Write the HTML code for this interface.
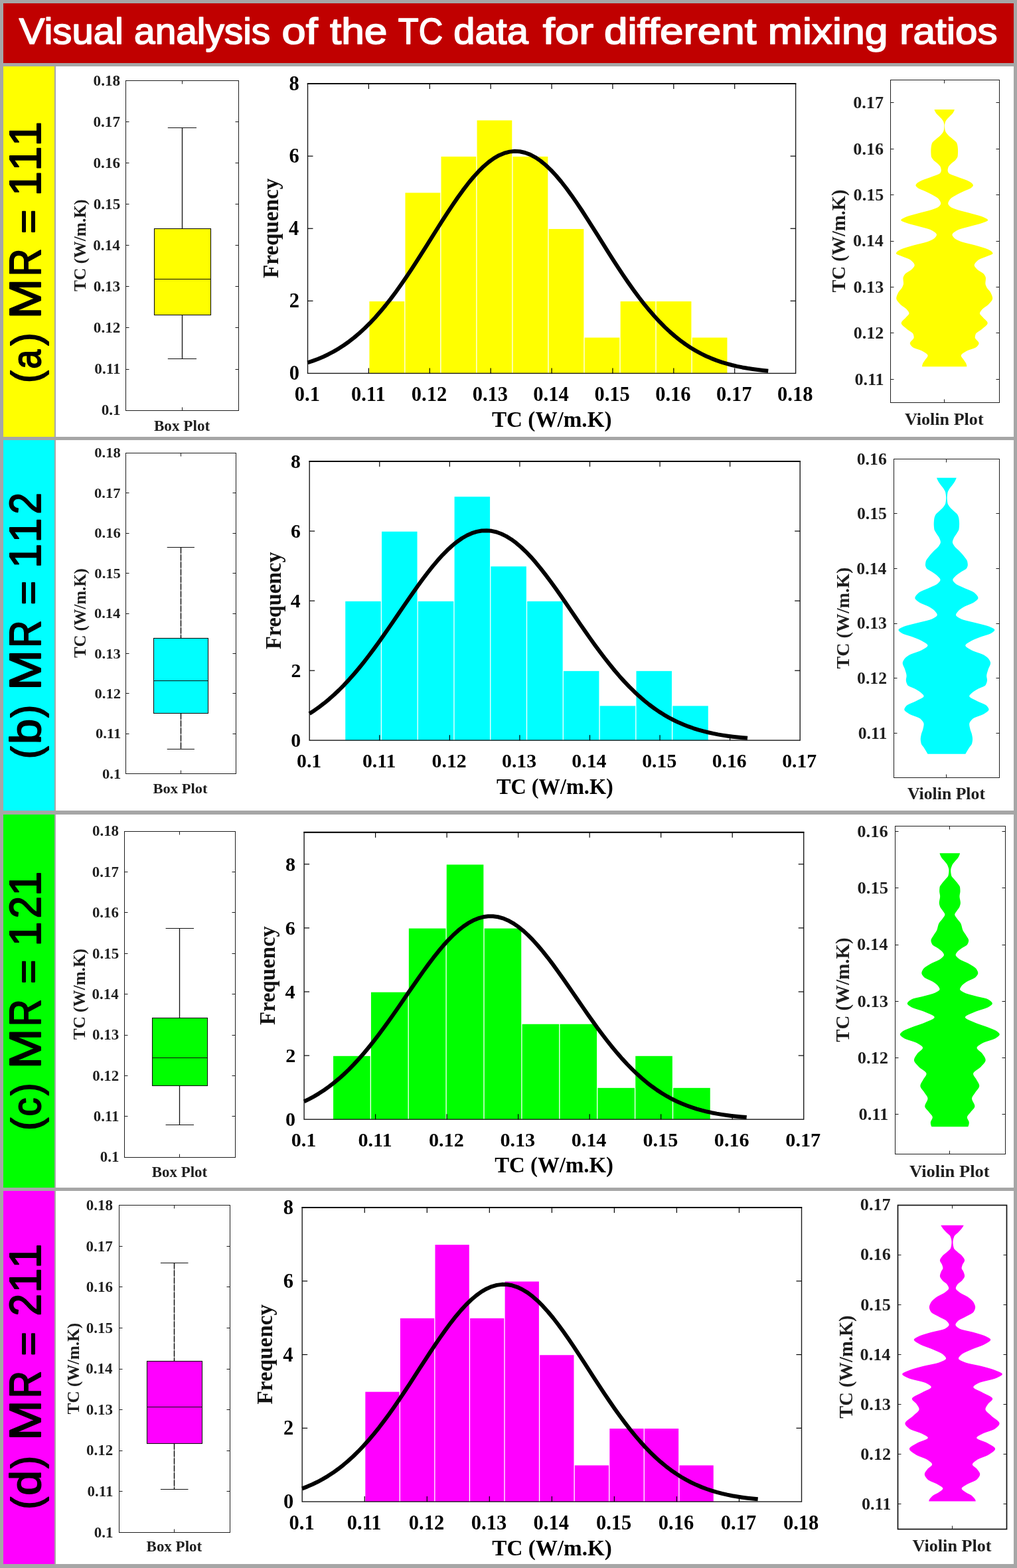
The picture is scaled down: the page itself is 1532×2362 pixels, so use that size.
<!DOCTYPE html>
<html lang="en">
<head>
<meta charset="utf-8">
<title>Visual analysis of the TC data for different mixing ratios</title>
<style>
html,body{margin:0;padding:0;background:#a6a6a6;}
body{width:1532px;height:2362px;overflow:hidden;}
svg{display:block;}
text{white-space:pre;}
</style>
</head>
<body>
<svg width="1532" height="2362" viewBox="0 0 1532 2362" role="img" aria-label="Visual analysis of the TC data for different mixing ratios">
<rect x="0" y="0" width="1532" height="2362" fill="#a6a6a6"/>
<rect x="5" y="5" width="1522" height="90" fill="#c00000"/>
<text y="65.95" font-family="'Liberation Sans','DejaVu Sans',sans-serif" font-size="56.3" fill="#fff" stroke="#fff" stroke-width="1.7" stroke-linejoin="round"><tspan x="28.76" textLength="157.15" lengthAdjust="spacingAndGlyphs">Visual</tspan> <tspan x="202.14" textLength="205.12" lengthAdjust="spacingAndGlyphs">analysis</tspan> <tspan x="424.59" textLength="54.2" lengthAdjust="spacingAndGlyphs">of</tspan> <tspan x="496.92" textLength="86.49" lengthAdjust="spacingAndGlyphs">the</tspan> <tspan x="599.81" textLength="67.28" lengthAdjust="spacingAndGlyphs">TC</tspan> <tspan x="683.39" textLength="112.43" lengthAdjust="spacingAndGlyphs">data</tspan> <tspan x="817.87" textLength="76.13" lengthAdjust="spacingAndGlyphs">for</tspan> <tspan x="910.14" textLength="229.42" lengthAdjust="spacingAndGlyphs">different</tspan> <tspan x="1156.83" textLength="180.67" lengthAdjust="spacingAndGlyphs">mixing</tspan> <tspan x="1355.38" textLength="147.3" lengthAdjust="spacingAndGlyphs">ratios</tspan></text>
<rect x="5" y="100" width="77" height="558" fill="#ffff00"/>
<rect x="84" y="100" width="1443" height="558" fill="#fff"/>
<text y="61.2" transform="rotate(-90)" font-family="'Liberation Sans','DejaVu Sans',sans-serif" font-size="66.6" fill="#000" stroke="#000" stroke-width="2" stroke-linejoin="round"><tspan x="-576.78" y="59.8" font-size="61.4" textLength="18.52" lengthAdjust="spacingAndGlyphs">(</tspan><tspan x="-555.4" y="61.2" font-size="61.5" textLength="28.76" lengthAdjust="spacingAndGlyphs">a</tspan><tspan x="-520.43" y="59.8" font-size="61.4" textLength="19.28" lengthAdjust="spacingAndGlyphs">)</tspan> <tspan x="-480.38" y="61.2" textLength="60.4" lengthAdjust="spacingAndGlyphs">M</tspan><tspan x="-416.42" y="61.2" textLength="42.17" lengthAdjust="spacingAndGlyphs">R</tspan> <tspan x="-351.67" y="61.4" font-size="54.8" textLength="35.88" lengthAdjust="spacingAndGlyphs">=</tspan> <tspan x="-295.36" y="61.2" textLength="37.04" lengthAdjust="spacingAndGlyphs">1</tspan><tspan x="-257.46" y="61.2" textLength="37.04" lengthAdjust="spacingAndGlyphs">1</tspan><tspan x="-220.16" y="61.2" textLength="37.04" lengthAdjust="spacingAndGlyphs">1</tspan></text>
<g>
<rect x="189.5" y="121.5" width="170" height="497" fill="#fff" stroke="#1e1e1e" stroke-width="1"/>
<text x="140.6" y="128.61" font-family="'Liberation Serif','DejaVu Serif',serif" font-size="22.5" font-weight="bold" fill="#1e1e1e" textLength="40.56" lengthAdjust="spacingAndGlyphs">0.18</text>
<line x1="189.5" y1="183.5" x2="194.5" y2="183.5" stroke="#1e1e1e" stroke-width="1"/>
<line x1="354.5" y1="183.5" x2="359.5" y2="183.5" stroke="#1e1e1e" stroke-width="1"/>
<text x="140.42" y="190.71" font-family="'Liberation Serif','DejaVu Serif',serif" font-size="22.5" font-weight="bold" fill="#1e1e1e" textLength="40.56" lengthAdjust="spacingAndGlyphs">0.17</text>
<line x1="189.5" y1="245.5" x2="194.5" y2="245.5" stroke="#1e1e1e" stroke-width="1"/>
<line x1="354.5" y1="245.5" x2="359.5" y2="245.5" stroke="#1e1e1e" stroke-width="1"/>
<text x="140.54" y="252.81" font-family="'Liberation Serif','DejaVu Serif',serif" font-size="22.5" font-weight="bold" fill="#1e1e1e" textLength="40.56" lengthAdjust="spacingAndGlyphs">0.16</text>
<line x1="189.5" y1="307.5" x2="194.5" y2="307.5" stroke="#1e1e1e" stroke-width="1"/>
<line x1="354.5" y1="307.5" x2="359.5" y2="307.5" stroke="#1e1e1e" stroke-width="1"/>
<text x="140.71" y="314.91" font-family="'Liberation Serif','DejaVu Serif',serif" font-size="22.5" font-weight="bold" fill="#1e1e1e" textLength="40.56" lengthAdjust="spacingAndGlyphs">0.15</text>
<line x1="189.5" y1="369.5" x2="194.5" y2="369.5" stroke="#1e1e1e" stroke-width="1"/>
<line x1="354.5" y1="369.5" x2="359.5" y2="369.5" stroke="#1e1e1e" stroke-width="1"/>
<text x="140.25" y="377.01" font-family="'Liberation Serif','DejaVu Serif',serif" font-size="22.5" font-weight="bold" fill="#1e1e1e" textLength="40.56" lengthAdjust="spacingAndGlyphs">0.14</text>
<line x1="189.5" y1="431.5" x2="194.5" y2="431.5" stroke="#1e1e1e" stroke-width="1"/>
<line x1="354.5" y1="431.5" x2="359.5" y2="431.5" stroke="#1e1e1e" stroke-width="1"/>
<text x="140.65" y="439.11" font-family="'Liberation Serif','DejaVu Serif',serif" font-size="22.5" font-weight="bold" fill="#1e1e1e" textLength="40.56" lengthAdjust="spacingAndGlyphs">0.13</text>
<line x1="189.5" y1="493.5" x2="194.5" y2="493.5" stroke="#1e1e1e" stroke-width="1"/>
<line x1="354.5" y1="493.5" x2="359.5" y2="493.5" stroke="#1e1e1e" stroke-width="1"/>
<text x="140.83" y="501.21" font-family="'Liberation Serif','DejaVu Serif',serif" font-size="22.5" font-weight="bold" fill="#1e1e1e" textLength="40.56" lengthAdjust="spacingAndGlyphs">0.12</text>
<line x1="189.5" y1="556.5" x2="194.5" y2="556.5" stroke="#1e1e1e" stroke-width="1"/>
<line x1="354.5" y1="556.5" x2="359.5" y2="556.5" stroke="#1e1e1e" stroke-width="1"/>
<text x="142.34" y="563.31" font-family="'Liberation Serif','DejaVu Serif',serif" font-size="22.5" font-weight="bold" fill="#1e1e1e" textLength="39.28" lengthAdjust="spacingAndGlyphs">0.11</text>
<text x="152.65" y="625.41" font-family="'Liberation Serif','DejaVu Serif',serif" font-size="22.5" font-weight="bold" fill="#1e1e1e" textLength="28.97" lengthAdjust="spacingAndGlyphs">0.1</text>
<line x1="274.5" y1="121.5" x2="274.5" y2="126.5" stroke="#1e1e1e" stroke-width="1"/>
<line x1="274.5" y1="613.5" x2="274.5" y2="618.5" stroke="#1e1e1e" stroke-width="1"/>
<line x1="274.5" y1="192.5" x2="274.5" y2="344.5" stroke="#111" stroke-width="1.3"/>
<line x1="274.5" y1="474.5" x2="274.5" y2="540.5" stroke="#111" stroke-width="1.3"/>
<line x1="252.8" y1="192.5" x2="296" y2="192.5" stroke="#111" stroke-width="1.2"/>
<line x1="252.8" y1="540.5" x2="296" y2="540.5" stroke="#111" stroke-width="1.2"/>
<rect x="232.5" y="344.5" width="85" height="130" fill="#ffff00" stroke="#111" stroke-width="1.1"/>
<line x1="232.5" y1="420.5" x2="317.5" y2="420.5" stroke="#111" stroke-width="1.2"/>
<text x="231.91" y="648.7" font-family="'Liberation Serif','DejaVu Serif',serif" font-size="22.5" font-weight="bold" fill="#1e1e1e" textLength="84.33" lengthAdjust="spacingAndGlyphs">Box Plot</text>
<text x="-438.97" y="129" font-family="'Liberation Serif','DejaVu Serif',serif" font-size="25.6" font-weight="bold" fill="#1e1e1e" textLength="138.67" lengthAdjust="spacingAndGlyphs" transform="rotate(-90)">TC (W/m.K)</text>
</g>
<g>
<rect x="463.5" y="126.1" width="735.1" height="436.3" fill="#fff"/>
<rect x="556.45" y="454.02" width="52.73" height="108.37" fill="#ffff00"/>
<rect x="610.48" y="290.41" width="52.73" height="271.99" fill="#ffff00"/>
<rect x="664.51" y="235.88" width="52.73" height="326.52" fill="#ffff00"/>
<rect x="718.54" y="181.34" width="52.73" height="381.06" fill="#ffff00"/>
<rect x="772.57" y="235.88" width="52.73" height="326.52" fill="#ffff00"/>
<rect x="826.6" y="344.95" width="52.73" height="217.45" fill="#ffff00"/>
<rect x="880.63" y="508.56" width="52.73" height="53.84" fill="#ffff00"/>
<rect x="934.66" y="454.02" width="52.73" height="108.37" fill="#ffff00"/>
<rect x="988.69" y="454.02" width="52.73" height="108.37" fill="#ffff00"/>
<rect x="1042.72" y="508.56" width="52.73" height="53.84" fill="#ffff00"/>
<rect x="463.5" y="126.1" width="735.1" height="436.3" fill="none" stroke="#1a1a1a" stroke-width="1.4"/>
<line x1="462.8" y1="126.1" x2="1199.3" y2="126.1" stroke="#000" stroke-width="1.9"/>
<text x="443.87" y="604.3" font-family="'Liberation Serif','DejaVu Serif',serif" font-size="30.5" font-weight="bold" fill="#000" textLength="38.12" lengthAdjust="spacingAndGlyphs">0.1</text>
<line x1="555.39" y1="562.4" x2="555.39" y2="554.4" stroke="#000" stroke-width="1.2"/>
<line x1="555.39" y1="126.1" x2="555.39" y2="134.1" stroke="#000" stroke-width="1.2"/>
<text x="528.97" y="604.3" font-family="'Liberation Serif','DejaVu Serif',serif" font-size="30.5" font-weight="bold" fill="#000" textLength="51.69" lengthAdjust="spacingAndGlyphs">0.11</text>
<line x1="647.28" y1="562.4" x2="647.28" y2="554.4" stroke="#000" stroke-width="1.2"/>
<line x1="647.28" y1="126.1" x2="647.28" y2="134.1" stroke="#000" stroke-width="1.2"/>
<text x="619.86" y="604.3" font-family="'Liberation Serif','DejaVu Serif',serif" font-size="30.5" font-weight="bold" fill="#000" textLength="53.38" lengthAdjust="spacingAndGlyphs">0.12</text>
<line x1="739.16" y1="562.4" x2="739.16" y2="554.4" stroke="#000" stroke-width="1.2"/>
<line x1="739.16" y1="126.1" x2="739.16" y2="134.1" stroke="#000" stroke-width="1.2"/>
<text x="711.64" y="604.3" font-family="'Liberation Serif','DejaVu Serif',serif" font-size="30.5" font-weight="bold" fill="#000" textLength="53.38" lengthAdjust="spacingAndGlyphs">0.13</text>
<line x1="831.05" y1="562.4" x2="831.05" y2="554.4" stroke="#000" stroke-width="1.2"/>
<line x1="831.05" y1="126.1" x2="831.05" y2="134.1" stroke="#000" stroke-width="1.2"/>
<text x="803.26" y="604.3" font-family="'Liberation Serif','DejaVu Serif',serif" font-size="30.5" font-weight="bold" fill="#000" textLength="53.38" lengthAdjust="spacingAndGlyphs">0.14</text>
<line x1="922.94" y1="562.4" x2="922.94" y2="554.4" stroke="#000" stroke-width="1.2"/>
<line x1="922.94" y1="126.1" x2="922.94" y2="134.1" stroke="#000" stroke-width="1.2"/>
<text x="895.45" y="604.3" font-family="'Liberation Serif','DejaVu Serif',serif" font-size="30.5" font-weight="bold" fill="#000" textLength="53.38" lengthAdjust="spacingAndGlyphs">0.15</text>
<line x1="1014.82" y1="562.4" x2="1014.82" y2="554.4" stroke="#000" stroke-width="1.2"/>
<line x1="1014.82" y1="126.1" x2="1014.82" y2="134.1" stroke="#000" stroke-width="1.2"/>
<text x="987.22" y="604.3" font-family="'Liberation Serif','DejaVu Serif',serif" font-size="30.5" font-weight="bold" fill="#000" textLength="53.38" lengthAdjust="spacingAndGlyphs">0.16</text>
<line x1="1106.71" y1="562.4" x2="1106.71" y2="554.4" stroke="#000" stroke-width="1.2"/>
<line x1="1106.71" y1="126.1" x2="1106.71" y2="134.1" stroke="#000" stroke-width="1.2"/>
<text x="1079.03" y="604.3" font-family="'Liberation Serif','DejaVu Serif',serif" font-size="30.5" font-weight="bold" fill="#000" textLength="53.38" lengthAdjust="spacingAndGlyphs">0.17</text>
<text x="1171.04" y="604.3" font-family="'Liberation Serif','DejaVu Serif',serif" font-size="30.5" font-weight="bold" fill="#000" textLength="53.38" lengthAdjust="spacingAndGlyphs">0.18</text>
<text x="435.69" y="572.39" font-family="'Liberation Serif','DejaVu Serif',serif" font-size="30.5" font-weight="bold" fill="#000" textLength="15.25" lengthAdjust="spacingAndGlyphs">0</text>
<line x1="463.5" y1="453.32" x2="471.5" y2="453.32" stroke="#000" stroke-width="1.2"/>
<line x1="1190.6" y1="453.32" x2="1198.6" y2="453.32" stroke="#000" stroke-width="1.2"/>
<text x="435.85" y="463.43" font-family="'Liberation Serif','DejaVu Serif',serif" font-size="30.5" font-weight="bold" fill="#000" textLength="15.25" lengthAdjust="spacingAndGlyphs">2</text>
<line x1="463.5" y1="344.25" x2="471.5" y2="344.25" stroke="#000" stroke-width="1.2"/>
<line x1="1190.6" y1="344.25" x2="1198.6" y2="344.25" stroke="#000" stroke-width="1.2"/>
<text x="435.08" y="354.28" font-family="'Liberation Serif','DejaVu Serif',serif" font-size="30.5" font-weight="bold" fill="#000" textLength="15.25" lengthAdjust="spacingAndGlyphs">4</text>
<line x1="463.5" y1="235.18" x2="471.5" y2="235.18" stroke="#000" stroke-width="1.2"/>
<line x1="1190.6" y1="235.18" x2="1198.6" y2="235.18" stroke="#000" stroke-width="1.2"/>
<text x="435.47" y="245.13" font-family="'Liberation Serif','DejaVu Serif',serif" font-size="30.5" font-weight="bold" fill="#000" textLength="15.25" lengthAdjust="spacingAndGlyphs">6</text>
<text x="435.54" y="136.09" font-family="'Liberation Serif','DejaVu Serif',serif" font-size="30.5" font-weight="bold" fill="#000" textLength="15.25" lengthAdjust="spacingAndGlyphs">8</text>
<path d="M463.5 546.25 L471.29 543.65 L479.09 540.72 L486.88 537.42 L494.68 533.72 L502.47 529.61 L510.27 525.05 L518.06 520.01 L525.86 514.47 L533.65 508.41 L541.45 501.81 L549.24 494.66 L557.04 486.95 L564.83 478.69 L572.63 469.86 L580.42 460.49 L588.22 450.59 L596.01 440.19 L603.81 429.33 L611.6 418.04 L619.4 406.38 L627.19 394.42 L634.99 382.22 L642.78 369.85 L650.58 357.41 L658.37 344.99 L666.17 332.68 L673.96 320.59 L681.76 308.81 L689.55 297.46 L697.35 286.64 L705.14 276.46 L712.94 267.01 L720.73 258.4 L728.53 250.71 L736.32 244.03 L744.12 238.42 L751.91 233.96 L759.71 230.68 L767.5 228.63 L775.3 227.82 L783.09 228.28 L790.89 229.99 L798.68 232.93 L806.48 237.07 L814.27 242.36 L822.07 248.75 L829.86 256.17 L837.66 264.54 L845.45 273.76 L853.25 283.75 L861.04 294.41 L868.84 305.62 L876.63 317.29 L884.43 329.31 L892.22 341.57 L900.02 353.97 L907.81 366.41 L915.61 378.81 L923.4 391.06 L931.2 403.1 L938.99 414.85 L946.79 426.24 L954.58 437.23 L962.38 447.76 L970.17 457.8 L977.97 467.32 L985.76 476.3 L993.56 484.72 L1001.35 492.58 L1009.15 499.89 L1016.94 506.63 L1024.74 512.84 L1032.53 518.52 L1040.33 523.7 L1048.12 528.39 L1055.92 532.63 L1063.71 536.44 L1071.51 539.84 L1079.3 542.87 L1087.1 545.56 L1094.89 547.93 L1102.69 550.02 L1110.48 551.84 L1118.28 553.43 L1126.07 554.81 L1133.87 556 L1141.66 557.03 L1149.46 557.9 L1157.25 558.65" fill="none" stroke="#000" stroke-width="6" stroke-linejoin="round"/>
<text x="741" y="643.2" font-family="'Liberation Serif','DejaVu Serif',serif" font-size="34" font-weight="bold" fill="#000" textLength="180.47" lengthAdjust="spacingAndGlyphs">TC (W/m.K)</text>
<text x="-419.08" y="419" font-family="'Liberation Serif','DejaVu Serif',serif" font-size="34" font-weight="bold" fill="#111" textLength="150.39" lengthAdjust="spacingAndGlyphs" transform="rotate(-90)">Frequency</text>
</g>
<g>
<rect x="1341.5" y="120.5" width="164" height="486" fill="#fff" stroke="#1e1e1e" stroke-width="1"/>
<path d="M1407.52 165.01 L1407.81 166.01 L1408.21 167.01 L1408.69 168.01 L1409.25 169.01 L1409.86 170.01 L1410.53 171.01 L1411.4 172.01 L1412.41 173.01 L1413.47 174.01 L1414.5 175.01 L1415.46 176.01 L1416.46 177.01 L1417.45 178.01 L1418.37 179.01 L1419.18 180.01 L1419.86 181.01 L1420.51 182.01 L1421.06 183.01 L1421.47 184.01 L1421.75 185.01 L1422 186.01 L1422.2 187.01 L1422.35 188.01 L1422.4 189.01 L1422.39 190.01 L1422.35 191.01 L1422.29 192.01 L1422.21 193.01 L1422.11 194.01 L1421.96 195.01 L1421.74 196.01 L1421.44 197.01 L1421.1 198.01 L1420.62 199.01 L1420 200.01 L1419.25 201.01 L1418.41 202.01 L1417.52 203.01 L1416.62 204.01 L1415.58 205.01 L1414.41 206.01 L1413.16 207.01 L1411.91 208.01 L1410.7 209.01 L1409.58 210.01 L1408.41 211.01 L1407.2 212.01 L1406.06 213.01 L1405.08 214.01 L1404.35 215.01 L1403.92 216.01 L1403.6 217.01 L1403.32 218.01 L1403.09 219.01 L1402.91 220.01 L1402.77 221.01 L1402.66 222.01 L1402.57 223.01 L1402.48 224.01 L1402.41 225.01 L1402.36 226.01 L1402.34 227.01 L1402.34 228.01 L1402.35 229.01 L1402.38 230.01 L1402.43 231.01 L1402.48 232.01 L1402.55 233.01 L1402.63 234.01 L1402.72 235.01 L1402.91 236.01 L1403.31 237.01 L1403.87 238.01 L1404.55 239.01 L1405.3 240.01 L1406.07 241.01 L1407 242.01 L1408.16 243.01 L1409.46 244.01 L1410.78 245.01 L1412.01 246.01 L1413.05 247.01 L1414.02 248.01 L1414.98 249.01 L1415.83 250.01 L1416.5 251.01 L1416.9 252.01 L1417.21 253.01 L1417.47 254.01 L1417.66 255.01 L1417.78 256.01 L1417.79 257.01 L1417.6 258.01 L1417.24 259.01 L1416.75 260.01 L1416.08 261.01 L1414.61 262.01 L1412.42 263.01 L1409.79 264.01 L1406.97 265.01 L1404.23 266.01 L1401.68 267.01 L1398.92 268.01 L1396.02 269.01 L1393.14 270.01 L1390.44 271.01 L1388.09 272.01 L1386.1 273.01 L1384.24 274.01 L1382.62 275.01 L1381.39 276.01 L1380.53 277.01 L1379.8 278.01 L1379.43 279.01 L1379.63 280.01 L1380.32 281.01 L1381.32 282.01 L1382.46 283.01 L1383.96 284.01 L1386.08 285.01 L1388.55 286.01 L1391.08 287.01 L1393.38 288.01 L1395.48 289.01 L1397.59 290.01 L1399.66 291.01 L1401.66 292.01 L1403.56 293.01 L1405.33 294.01 L1407.1 295.01 L1408.86 296.01 L1410.54 297.01 L1412.03 298.01 L1413.24 299.01 L1414.09 300.01 L1414.82 301.01 L1415.5 302.01 L1416.11 303.01 L1416.61 304.01 L1416.98 305.01 L1417.18 306.01 L1417.18 307.01 L1416.85 308.01 L1416.23 309.01 L1415.38 310.01 L1414.39 311.01 L1413.2 312.01 L1411.31 313.01 L1408.87 314.01 L1406.16 315.01 L1403.29 316.01 L1399.9 317.01 L1396.14 318.01 L1392.19 319.01 L1388.24 320.01 L1384.48 321.01 L1380.9 322.01 L1377.16 323.01 L1373.43 324.01 L1369.91 325.01 L1366.78 326.01 L1364.25 327.01 L1362.14 328.01 L1360.1 329.01 L1358.39 330.01 L1357.32 331.01 L1357.2 332.01 L1358.41 333.01 L1360.61 334.01 L1363.31 335.01 L1366.03 336.01 L1369.05 337.01 L1372.65 338.01 L1376.54 339.01 L1380.44 340.01 L1384.07 341.01 L1387.76 342.01 L1391.62 343.01 L1395.39 344.01 L1398.81 345.01 L1401.61 346.01 L1403.59 347.01 L1405.29 348.01 L1406.89 349.01 L1408.32 350.01 L1409.5 351.01 L1410.38 352.01 L1410.87 353.01 L1410.92 354.01 L1410.61 355.01 L1410.05 356.01 L1409.3 357.01 L1408.44 358.01 L1407.47 359.01 L1406.1 360.01 L1404.36 361.01 L1402.32 362.01 L1400.07 363.01 L1397.53 364.01 L1394.29 365.01 L1390.51 366.01 L1386.42 367.01 L1382.24 368.01 L1378.19 369.01 L1374.49 370.01 L1371.13 371.01 L1367.72 372.01 L1364.39 373.01 L1361.28 374.01 L1358.54 375.01 L1356.3 376.01 L1354.47 377.01 L1352.82 378.01 L1351.49 379.01 L1350.63 380.01 L1350.09 381.01 L1349.86 382.01 L1350.87 383.01 L1353.14 384.01 L1355.9 385.01 L1358.39 386.01 L1360.85 387.01 L1363.53 388.01 L1366.23 389.01 L1368.7 390.01 L1370.72 391.01 L1372.09 392.01 L1373.23 393.01 L1374.31 394.01 L1375.29 395.01 L1376.14 396.01 L1376.84 397.01 L1377.34 398.01 L1377.62 399.01 L1377.63 400.01 L1377.31 401.01 L1376.72 402.01 L1375.95 403.01 L1375.06 404.01 L1374.14 405.01 L1373.19 406.01 L1371.91 407.01 L1370.39 408.01 L1368.73 409.01 L1367.06 410.01 L1365.5 411.01 L1364.16 412.01 L1363.17 413.01 L1362.51 414.01 L1361.89 415.01 L1361.34 416.01 L1360.88 417.01 L1360.57 418.01 L1360.43 419.01 L1360.45 420.01 L1360.51 421.01 L1360.61 422.01 L1360.71 423.01 L1360.83 424.01 L1360.92 425.01 L1360.99 426.01 L1361.02 427.01 L1360.93 428.01 L1360.69 429.01 L1360.34 430.01 L1359.92 431.01 L1359.45 432.01 L1358.99 433.01 L1358.41 434.01 L1357.67 435.01 L1356.82 436.01 L1355.93 437.01 L1355.05 438.01 L1354.24 439.01 L1353.55 440.01 L1353.04 441.01 L1352.57 442.01 L1352.1 443.01 L1351.65 444.01 L1351.24 445.01 L1350.88 446.01 L1350.59 447.01 L1350.37 448.01 L1350.26 449.01 L1350.28 450.01 L1350.51 451.01 L1350.95 452.01 L1351.55 453.01 L1352.29 454.01 L1353.12 455.01 L1354.02 456.01 L1354.93 457.01 L1355.84 458.01 L1356.79 459.01 L1357.96 460.01 L1359.31 461.01 L1360.75 462.01 L1362.2 463.01 L1363.58 464.01 L1364.8 465.01 L1365.79 466.01 L1366.61 467.01 L1367.43 468.01 L1368.2 469.01 L1368.83 470.01 L1369.27 471.01 L1369.44 472.01 L1369.21 473.01 L1368.6 474.01 L1367.73 475.01 L1366.73 476.01 L1365.73 477.01 L1364.85 478.01 L1363.95 479.01 L1362.93 480.01 L1361.84 481.01 L1360.76 482.01 L1359.74 483.01 L1358.86 484.01 L1358.19 485.01 L1357.78 486.01 L1357.7 487.01 L1357.99 488.01 L1358.59 489.01 L1359.45 490.01 L1360.49 491.01 L1361.66 492.01 L1362.9 493.01 L1364.14 494.01 L1365.33 495.01 L1366.46 496.01 L1367.79 497.01 L1369.3 498.01 L1370.86 499.01 L1372.37 500.01 L1373.73 501.01 L1374.83 502.01 L1375.55 503.01 L1375.91 504.01 L1376.2 505.01 L1376.43 506.01 L1376.6 507.01 L1376.68 508.01 L1376.56 509.01 L1376.08 510.01 L1375.32 511.01 L1374.4 512.01 L1373.4 513.01 L1372.44 514.01 L1371.62 515.01 L1371.04 516.01 L1370.81 517.01 L1370.94 518.01 L1371.35 519.01 L1371.99 520.01 L1372.81 521.01 L1373.76 522.01 L1374.79 523.01 L1376.48 524.01 L1379.03 525.01 L1382.02 526.01 L1385.07 527.01 L1387.76 528.01 L1389.72 529.01 L1391.39 530.01 L1393.05 531.01 L1394.59 532.01 L1395.91 533.01 L1396.91 534.01 L1397.51 535.01 L1397.61 536.01 L1397.34 537.01 L1396.8 538.01 L1396.08 539.01 L1395.26 540.01 L1394.43 541.01 L1393.67 542.01 L1393.02 543.01 L1392.34 544.01 L1391.64 545.01 L1390.97 546.01 L1390.38 547.01 L1389.93 548.01 L1389.63 549.01 L1389.37 550.01 L1389.16 551.01 L1389.04 552.01 L1389.02 552.32 L1456.38 552.32 L1456.36 552.01 L1456.24 551.01 L1456.03 550.01 L1455.77 549.01 L1455.47 548.01 L1455.02 547.01 L1454.43 546.01 L1453.76 545.01 L1453.06 544.01 L1452.38 543.01 L1451.73 542.01 L1450.97 541.01 L1450.14 540.01 L1449.32 539.01 L1448.6 538.01 L1448.06 537.01 L1447.79 536.01 L1447.89 535.01 L1448.49 534.01 L1449.49 533.01 L1450.81 532.01 L1452.35 531.01 L1454.01 530.01 L1455.68 529.01 L1457.64 528.01 L1460.33 527.01 L1463.38 526.01 L1466.37 525.01 L1468.92 524.01 L1470.61 523.01 L1471.64 522.01 L1472.59 521.01 L1473.41 520.01 L1474.05 519.01 L1474.46 518.01 L1474.59 517.01 L1474.36 516.01 L1473.78 515.01 L1472.96 514.01 L1472 513.01 L1471 512.01 L1470.08 511.01 L1469.32 510.01 L1468.84 509.01 L1468.72 508.01 L1468.8 507.01 L1468.97 506.01 L1469.2 505.01 L1469.49 504.01 L1469.85 503.01 L1470.57 502.01 L1471.67 501.01 L1473.03 500.01 L1474.54 499.01 L1476.1 498.01 L1477.61 497.01 L1478.94 496.01 L1480.07 495.01 L1481.26 494.01 L1482.5 493.01 L1483.74 492.01 L1484.91 491.01 L1485.95 490.01 L1486.81 489.01 L1487.41 488.01 L1487.7 487.01 L1487.62 486.01 L1487.21 485.01 L1486.54 484.01 L1485.66 483.01 L1484.64 482.01 L1483.56 481.01 L1482.47 480.01 L1481.45 479.01 L1480.55 478.01 L1479.67 477.01 L1478.67 476.01 L1477.67 475.01 L1476.8 474.01 L1476.19 473.01 L1475.96 472.01 L1476.13 471.01 L1476.57 470.01 L1477.2 469.01 L1477.97 468.01 L1478.79 467.01 L1479.61 466.01 L1480.6 465.01 L1481.82 464.01 L1483.2 463.01 L1484.65 462.01 L1486.09 461.01 L1487.44 460.01 L1488.61 459.01 L1489.56 458.01 L1490.47 457.01 L1491.38 456.01 L1492.28 455.01 L1493.11 454.01 L1493.85 453.01 L1494.45 452.01 L1494.89 451.01 L1495.12 450.01 L1495.14 449.01 L1495.03 448.01 L1494.81 447.01 L1494.52 446.01 L1494.16 445.01 L1493.75 444.01 L1493.3 443.01 L1492.83 442.01 L1492.36 441.01 L1491.85 440.01 L1491.16 439.01 L1490.35 438.01 L1489.47 437.01 L1488.58 436.01 L1487.73 435.01 L1486.99 434.01 L1486.41 433.01 L1485.95 432.01 L1485.48 431.01 L1485.06 430.01 L1484.71 429.01 L1484.47 428.01 L1484.38 427.01 L1484.41 426.01 L1484.48 425.01 L1484.57 424.01 L1484.69 423.01 L1484.79 422.01 L1484.89 421.01 L1484.95 420.01 L1484.97 419.01 L1484.83 418.01 L1484.52 417.01 L1484.06 416.01 L1483.51 415.01 L1482.89 414.01 L1482.23 413.01 L1481.24 412.01 L1479.9 411.01 L1478.34 410.01 L1476.67 409.01 L1475.01 408.01 L1473.49 407.01 L1472.21 406.01 L1471.26 405.01 L1470.34 404.01 L1469.45 403.01 L1468.68 402.01 L1468.09 401.01 L1467.77 400.01 L1467.78 399.01 L1468.06 398.01 L1468.56 397.01 L1469.26 396.01 L1470.11 395.01 L1471.09 394.01 L1472.17 393.01 L1473.31 392.01 L1474.68 391.01 L1476.7 390.01 L1479.17 389.01 L1481.87 388.01 L1484.55 387.01 L1487.01 386.01 L1489.5 385.01 L1492.26 384.01 L1494.53 383.01 L1495.54 382.01 L1495.31 381.01 L1494.77 380.01 L1493.91 379.01 L1492.58 378.01 L1490.93 377.01 L1489.1 376.01 L1486.86 375.01 L1484.12 374.01 L1481.01 373.01 L1477.68 372.01 L1474.27 371.01 L1470.91 370.01 L1467.21 369.01 L1463.16 368.01 L1458.98 367.01 L1454.89 366.01 L1451.11 365.01 L1447.87 364.01 L1445.33 363.01 L1443.08 362.01 L1441.04 361.01 L1439.3 360.01 L1437.93 359.01 L1436.96 358.01 L1436.1 357.01 L1435.35 356.01 L1434.79 355.01 L1434.48 354.01 L1434.53 353.01 L1435.02 352.01 L1435.9 351.01 L1437.08 350.01 L1438.51 349.01 L1440.11 348.01 L1441.81 347.01 L1443.79 346.01 L1446.59 345.01 L1450.01 344.01 L1453.78 343.01 L1457.64 342.01 L1461.33 341.01 L1464.96 340.01 L1468.86 339.01 L1472.75 338.01 L1476.35 337.01 L1479.37 336.01 L1482.09 335.01 L1484.79 334.01 L1486.99 333.01 L1488.2 332.01 L1488.08 331.01 L1487.01 330.01 L1485.3 329.01 L1483.26 328.01 L1481.15 327.01 L1478.62 326.01 L1475.49 325.01 L1471.97 324.01 L1468.24 323.01 L1464.5 322.01 L1460.92 321.01 L1457.16 320.01 L1453.21 319.01 L1449.26 318.01 L1445.5 317.01 L1442.11 316.01 L1439.24 315.01 L1436.53 314.01 L1434.09 313.01 L1432.2 312.01 L1431.01 311.01 L1430.02 310.01 L1429.17 309.01 L1428.55 308.01 L1428.22 307.01 L1428.22 306.01 L1428.42 305.01 L1428.79 304.01 L1429.29 303.01 L1429.9 302.01 L1430.58 301.01 L1431.31 300.01 L1432.16 299.01 L1433.37 298.01 L1434.86 297.01 L1436.54 296.01 L1438.3 295.01 L1440.07 294.01 L1441.84 293.01 L1443.74 292.01 L1445.74 291.01 L1447.81 290.01 L1449.92 289.01 L1452.02 288.01 L1454.32 287.01 L1456.85 286.01 L1459.32 285.01 L1461.44 284.01 L1462.94 283.01 L1464.08 282.01 L1465.08 281.01 L1465.77 280.01 L1465.97 279.01 L1465.6 278.01 L1464.87 277.01 L1464.01 276.01 L1462.78 275.01 L1461.16 274.01 L1459.3 273.01 L1457.31 272.01 L1454.96 271.01 L1452.26 270.01 L1449.38 269.01 L1446.48 268.01 L1443.72 267.01 L1441.17 266.01 L1438.43 265.01 L1435.61 264.01 L1432.98 263.01 L1430.79 262.01 L1429.32 261.01 L1428.65 260.01 L1428.16 259.01 L1427.8 258.01 L1427.61 257.01 L1427.62 256.01 L1427.74 255.01 L1427.93 254.01 L1428.19 253.01 L1428.5 252.01 L1428.9 251.01 L1429.57 250.01 L1430.42 249.01 L1431.38 248.01 L1432.35 247.01 L1433.39 246.01 L1434.62 245.01 L1435.94 244.01 L1437.24 243.01 L1438.4 242.01 L1439.33 241.01 L1440.1 240.01 L1440.85 239.01 L1441.53 238.01 L1442.09 237.01 L1442.49 236.01 L1442.68 235.01 L1442.77 234.01 L1442.85 233.01 L1442.92 232.01 L1442.97 231.01 L1443.02 230.01 L1443.05 229.01 L1443.06 228.01 L1443.06 227.01 L1443.04 226.01 L1442.99 225.01 L1442.92 224.01 L1442.83 223.01 L1442.74 222.01 L1442.63 221.01 L1442.49 220.01 L1442.31 219.01 L1442.08 218.01 L1441.8 217.01 L1441.48 216.01 L1441.05 215.01 L1440.32 214.01 L1439.34 213.01 L1438.2 212.01 L1436.99 211.01 L1435.82 210.01 L1434.7 209.01 L1433.49 208.01 L1432.24 207.01 L1430.99 206.01 L1429.82 205.01 L1428.78 204.01 L1427.88 203.01 L1426.99 202.01 L1426.15 201.01 L1425.4 200.01 L1424.78 199.01 L1424.3 198.01 L1423.96 197.01 L1423.66 196.01 L1423.44 195.01 L1423.29 194.01 L1423.19 193.01 L1423.11 192.01 L1423.05 191.01 L1423.01 190.01 L1423 189.01 L1423.05 188.01 L1423.2 187.01 L1423.4 186.01 L1423.65 185.01 L1423.93 184.01 L1424.34 183.01 L1424.89 182.01 L1425.54 181.01 L1426.22 180.01 L1427.03 179.01 L1427.95 178.01 L1428.94 177.01 L1429.94 176.01 L1430.9 175.01 L1431.93 174.01 L1432.99 173.01 L1434 172.01 L1434.87 171.01 L1435.54 170.01 L1436.15 169.01 L1436.71 168.01 L1437.19 167.01 L1437.59 166.01 L1437.88 165.01 Z" fill="#ffff00"/>
<line x1="1341.5" y1="154.5" x2="1346.5" y2="154.5" stroke="#1e1e1e" stroke-width="1"/>
<line x1="1500.5" y1="154.5" x2="1505.5" y2="154.5" stroke="#1e1e1e" stroke-width="1"/>
<text x="1285.26" y="163.12" font-family="'Liberation Serif','DejaVu Serif',serif" font-size="25.6" font-weight="bold" fill="#1e1e1e" textLength="45.7" lengthAdjust="spacingAndGlyphs">0.17</text>
<line x1="1341.5" y1="224.5" x2="1346.5" y2="224.5" stroke="#1e1e1e" stroke-width="1"/>
<line x1="1500.5" y1="224.5" x2="1505.5" y2="224.5" stroke="#1e1e1e" stroke-width="1"/>
<text x="1285.39" y="232.52" font-family="'Liberation Serif','DejaVu Serif',serif" font-size="25.6" font-weight="bold" fill="#1e1e1e" textLength="45.7" lengthAdjust="spacingAndGlyphs">0.16</text>
<line x1="1341.5" y1="293.5" x2="1346.5" y2="293.5" stroke="#1e1e1e" stroke-width="1"/>
<line x1="1500.5" y1="293.5" x2="1505.5" y2="293.5" stroke="#1e1e1e" stroke-width="1"/>
<text x="1285.58" y="301.92" font-family="'Liberation Serif','DejaVu Serif',serif" font-size="25.6" font-weight="bold" fill="#1e1e1e" textLength="45.7" lengthAdjust="spacingAndGlyphs">0.15</text>
<line x1="1341.5" y1="363.5" x2="1346.5" y2="363.5" stroke="#1e1e1e" stroke-width="1"/>
<line x1="1500.5" y1="363.5" x2="1505.5" y2="363.5" stroke="#1e1e1e" stroke-width="1"/>
<text x="1285.06" y="371.32" font-family="'Liberation Serif','DejaVu Serif',serif" font-size="25.6" font-weight="bold" fill="#1e1e1e" textLength="45.7" lengthAdjust="spacingAndGlyphs">0.14</text>
<line x1="1341.5" y1="432.5" x2="1346.5" y2="432.5" stroke="#1e1e1e" stroke-width="1"/>
<line x1="1500.5" y1="432.5" x2="1505.5" y2="432.5" stroke="#1e1e1e" stroke-width="1"/>
<text x="1285.52" y="440.72" font-family="'Liberation Serif','DejaVu Serif',serif" font-size="25.6" font-weight="bold" fill="#1e1e1e" textLength="45.7" lengthAdjust="spacingAndGlyphs">0.13</text>
<line x1="1341.5" y1="501.5" x2="1346.5" y2="501.5" stroke="#1e1e1e" stroke-width="1"/>
<line x1="1500.5" y1="501.5" x2="1505.5" y2="501.5" stroke="#1e1e1e" stroke-width="1"/>
<text x="1285.71" y="510.12" font-family="'Liberation Serif','DejaVu Serif',serif" font-size="25.6" font-weight="bold" fill="#1e1e1e" textLength="45.7" lengthAdjust="spacingAndGlyphs">0.12</text>
<line x1="1341.5" y1="571.5" x2="1346.5" y2="571.5" stroke="#1e1e1e" stroke-width="1"/>
<line x1="1500.5" y1="571.5" x2="1505.5" y2="571.5" stroke="#1e1e1e" stroke-width="1"/>
<text x="1287.41" y="579.52" font-family="'Liberation Serif','DejaVu Serif',serif" font-size="25.6" font-weight="bold" fill="#1e1e1e" textLength="44.26" lengthAdjust="spacingAndGlyphs">0.11</text>
<line x1="1422.5" y1="120.5" x2="1422.5" y2="125.5" stroke="#1e1e1e" stroke-width="1"/>
<line x1="1422.5" y1="601.5" x2="1422.5" y2="606.5" stroke="#1e1e1e" stroke-width="1"/>
<text x="1362.9" y="640" font-family="'Liberation Serif','DejaVu Serif',serif" font-size="25.6" font-weight="bold" fill="#1e1e1e" textLength="118.72" lengthAdjust="spacingAndGlyphs">Violin Plot</text>
<text x="-440.55" y="1272.9" font-family="'Liberation Serif','DejaVu Serif',serif" font-size="28.6" font-weight="bold" fill="#1e1e1e" textLength="154.92" lengthAdjust="spacingAndGlyphs" transform="rotate(-90)">TC (W/m.K)</text>
</g>
<rect x="5" y="663" width="77" height="558" fill="#00ffff"/>
<rect x="84" y="663" width="1443" height="558" fill="#fff"/>
<text y="61.2" transform="rotate(-90)" font-family="'Liberation Sans','DejaVu Sans',sans-serif" font-size="66.6" fill="#000" stroke="#000" stroke-width="2" stroke-linejoin="round"><tspan x="-1143.12" y="59.8" font-size="61.4" textLength="18.78" lengthAdjust="spacingAndGlyphs">(</tspan><tspan x="-1121.06" y="61.2" font-size="64.6" textLength="38.19" lengthAdjust="spacingAndGlyphs">b</tspan><tspan x="-1080.83" y="59.8" font-size="61.4" textLength="18.9" lengthAdjust="spacingAndGlyphs">)</tspan> <tspan x="-1039.69" y="61.2" textLength="60.53" lengthAdjust="spacingAndGlyphs">M</tspan><tspan x="-975.73" y="61.2" textLength="41.44" lengthAdjust="spacingAndGlyphs">R</tspan> <tspan x="-911.07" y="61.4" font-size="54.8" textLength="35.88" lengthAdjust="spacingAndGlyphs">=</tspan> <tspan x="-855.96" y="61.2" textLength="37.04" lengthAdjust="spacingAndGlyphs">1</tspan><tspan x="-817.46" y="61.2" textLength="37.04" lengthAdjust="spacingAndGlyphs">1</tspan><tspan x="-774.51" y="61.2" textLength="32.39" lengthAdjust="spacingAndGlyphs">2</tspan></text>
<g>
<rect x="189.5" y="682.5" width="166" height="483" fill="#fff" stroke="#1e1e1e" stroke-width="1"/>
<text x="142.27" y="689.42" font-family="'Liberation Serif','DejaVu Serif',serif" font-size="21.89" font-weight="bold" fill="#1e1e1e" textLength="39.46" lengthAdjust="spacingAndGlyphs">0.18</text>
<line x1="189.5" y1="742.5" x2="194.5" y2="742.5" stroke="#1e1e1e" stroke-width="1"/>
<line x1="350.5" y1="742.5" x2="355.5" y2="742.5" stroke="#1e1e1e" stroke-width="1"/>
<text x="142.1" y="749.85" font-family="'Liberation Serif','DejaVu Serif',serif" font-size="21.89" font-weight="bold" fill="#1e1e1e" textLength="39.46" lengthAdjust="spacingAndGlyphs">0.17</text>
<line x1="189.5" y1="803.5" x2="194.5" y2="803.5" stroke="#1e1e1e" stroke-width="1"/>
<line x1="350.5" y1="803.5" x2="355.5" y2="803.5" stroke="#1e1e1e" stroke-width="1"/>
<text x="142.22" y="810.29" font-family="'Liberation Serif','DejaVu Serif',serif" font-size="21.89" font-weight="bold" fill="#1e1e1e" textLength="39.46" lengthAdjust="spacingAndGlyphs">0.16</text>
<line x1="189.5" y1="863.5" x2="194.5" y2="863.5" stroke="#1e1e1e" stroke-width="1"/>
<line x1="350.5" y1="863.5" x2="355.5" y2="863.5" stroke="#1e1e1e" stroke-width="1"/>
<text x="142.38" y="870.73" font-family="'Liberation Serif','DejaVu Serif',serif" font-size="21.89" font-weight="bold" fill="#1e1e1e" textLength="39.46" lengthAdjust="spacingAndGlyphs">0.15</text>
<line x1="189.5" y1="924.5" x2="194.5" y2="924.5" stroke="#1e1e1e" stroke-width="1"/>
<line x1="350.5" y1="924.5" x2="355.5" y2="924.5" stroke="#1e1e1e" stroke-width="1"/>
<text x="141.93" y="931.17" font-family="'Liberation Serif','DejaVu Serif',serif" font-size="21.89" font-weight="bold" fill="#1e1e1e" textLength="39.46" lengthAdjust="spacingAndGlyphs">0.14</text>
<line x1="189.5" y1="984.5" x2="194.5" y2="984.5" stroke="#1e1e1e" stroke-width="1"/>
<line x1="350.5" y1="984.5" x2="355.5" y2="984.5" stroke="#1e1e1e" stroke-width="1"/>
<text x="142.33" y="991.6" font-family="'Liberation Serif','DejaVu Serif',serif" font-size="21.89" font-weight="bold" fill="#1e1e1e" textLength="39.46" lengthAdjust="spacingAndGlyphs">0.13</text>
<line x1="189.5" y1="1044.5" x2="194.5" y2="1044.5" stroke="#1e1e1e" stroke-width="1"/>
<line x1="350.5" y1="1044.5" x2="355.5" y2="1044.5" stroke="#1e1e1e" stroke-width="1"/>
<text x="142.5" y="1052.04" font-family="'Liberation Serif','DejaVu Serif',serif" font-size="21.89" font-weight="bold" fill="#1e1e1e" textLength="39.46" lengthAdjust="spacingAndGlyphs">0.12</text>
<line x1="189.5" y1="1105.5" x2="194.5" y2="1105.5" stroke="#1e1e1e" stroke-width="1"/>
<line x1="350.5" y1="1105.5" x2="355.5" y2="1105.5" stroke="#1e1e1e" stroke-width="1"/>
<text x="143.96" y="1112.48" font-family="'Liberation Serif','DejaVu Serif',serif" font-size="21.89" font-weight="bold" fill="#1e1e1e" textLength="38.22" lengthAdjust="spacingAndGlyphs">0.11</text>
<text x="154" y="1172.92" font-family="'Liberation Serif','DejaVu Serif',serif" font-size="21.89" font-weight="bold" fill="#1e1e1e" textLength="28.19" lengthAdjust="spacingAndGlyphs">0.1</text>
<line x1="272.5" y1="682.5" x2="272.5" y2="687.5" stroke="#1e1e1e" stroke-width="1"/>
<line x1="272.5" y1="1160.5" x2="272.5" y2="1165.5" stroke="#1e1e1e" stroke-width="1"/>
<line x1="272.5" y1="824.5" x2="272.5" y2="961.5" stroke="#777" stroke-width="1"/>
<line x1="272.5" y1="1074.5" x2="272.5" y2="1128.5" stroke="#777" stroke-width="1"/>
<line x1="272.5" y1="824.5" x2="272.5" y2="961.5" stroke="#111" stroke-width="1.5" stroke-dasharray="9 2"/>
<line x1="272.5" y1="1074.5" x2="272.5" y2="1128.5" stroke="#111" stroke-width="1.5" stroke-dasharray="9 2"/>
<line x1="251.7" y1="824.5" x2="292.9" y2="824.5" stroke="#111" stroke-width="1.2"/>
<line x1="251.7" y1="1128.5" x2="292.9" y2="1128.5" stroke="#111" stroke-width="1.2"/>
<rect x="231.5" y="961.5" width="82" height="113" fill="#00ffff" stroke="#111" stroke-width="1.1"/>
<line x1="231.5" y1="1025.5" x2="313.5" y2="1025.5" stroke="#111" stroke-width="1.2"/>
<text x="230.55" y="1194.8" font-family="'Liberation Serif','DejaVu Serif',serif" font-size="21.89" font-weight="bold" fill="#1e1e1e" textLength="82.05" lengthAdjust="spacingAndGlyphs">Box Plot</text>
<text x="-991.1" y="129" font-family="'Liberation Serif','DejaVu Serif',serif" font-size="24.91" font-weight="bold" fill="#1e1e1e" textLength="134.92" lengthAdjust="spacingAndGlyphs" transform="rotate(-90)">TC (W/m.K)</text>
</g>
<g>
<rect x="466.2" y="695" width="739" height="420.2" fill="#fff"/>
<rect x="520.25" y="905.8" width="53.48" height="209.4" fill="#00ffff"/>
<rect x="575.03" y="800.75" width="53.48" height="314.45" fill="#00ffff"/>
<rect x="629.81" y="905.8" width="53.48" height="209.4" fill="#00ffff"/>
<rect x="684.59" y="748.23" width="53.48" height="366.98" fill="#00ffff"/>
<rect x="739.37" y="853.28" width="53.48" height="261.93" fill="#00ffff"/>
<rect x="794.15" y="905.8" width="53.48" height="209.4" fill="#00ffff"/>
<rect x="848.93" y="1010.85" width="53.48" height="104.35" fill="#00ffff"/>
<rect x="903.71" y="1063.38" width="53.48" height="51.83" fill="#00ffff"/>
<rect x="958.49" y="1010.85" width="53.48" height="104.35" fill="#00ffff"/>
<rect x="1013.27" y="1063.38" width="53.48" height="51.83" fill="#00ffff"/>
<rect x="466.2" y="695" width="739" height="420.2" fill="none" stroke="#1a1a1a" stroke-width="1.4"/>
<line x1="465.5" y1="695" x2="1205.9" y2="695" stroke="#000" stroke-width="1.9"/>
<text x="447.04" y="1156" font-family="'Liberation Serif','DejaVu Serif',serif" font-size="29.74" font-weight="bold" fill="#000" textLength="37.17" lengthAdjust="spacingAndGlyphs">0.1</text>
<line x1="571.77" y1="1115.2" x2="571.77" y2="1107.2" stroke="#000" stroke-width="1.2"/>
<line x1="571.77" y1="695" x2="571.77" y2="703" stroke="#000" stroke-width="1.2"/>
<text x="545.99" y="1156" font-family="'Liberation Serif','DejaVu Serif',serif" font-size="29.74" font-weight="bold" fill="#000" textLength="50.4" lengthAdjust="spacingAndGlyphs">0.11</text>
<line x1="677.34" y1="1115.2" x2="677.34" y2="1107.2" stroke="#000" stroke-width="1.2"/>
<line x1="677.34" y1="695" x2="677.34" y2="703" stroke="#000" stroke-width="1.2"/>
<text x="650.6" y="1156" font-family="'Liberation Serif','DejaVu Serif',serif" font-size="29.74" font-weight="bold" fill="#000" textLength="52.04" lengthAdjust="spacingAndGlyphs">0.12</text>
<line x1="782.91" y1="1115.2" x2="782.91" y2="1107.2" stroke="#000" stroke-width="1.2"/>
<line x1="782.91" y1="695" x2="782.91" y2="703" stroke="#000" stroke-width="1.2"/>
<text x="756.06" y="1156" font-family="'Liberation Serif','DejaVu Serif',serif" font-size="29.74" font-weight="bold" fill="#000" textLength="52.04" lengthAdjust="spacingAndGlyphs">0.13</text>
<line x1="888.49" y1="1115.2" x2="888.49" y2="1107.2" stroke="#000" stroke-width="1.2"/>
<line x1="888.49" y1="695" x2="888.49" y2="703" stroke="#000" stroke-width="1.2"/>
<text x="861.37" y="1156" font-family="'Liberation Serif','DejaVu Serif',serif" font-size="29.74" font-weight="bold" fill="#000" textLength="52.04" lengthAdjust="spacingAndGlyphs">0.14</text>
<line x1="994.06" y1="1115.2" x2="994.06" y2="1107.2" stroke="#000" stroke-width="1.2"/>
<line x1="994.06" y1="695" x2="994.06" y2="703" stroke="#000" stroke-width="1.2"/>
<text x="967.24" y="1156" font-family="'Liberation Serif','DejaVu Serif',serif" font-size="29.74" font-weight="bold" fill="#000" textLength="52.04" lengthAdjust="spacingAndGlyphs">0.15</text>
<line x1="1099.63" y1="1115.2" x2="1099.63" y2="1107.2" stroke="#000" stroke-width="1.2"/>
<line x1="1099.63" y1="695" x2="1099.63" y2="703" stroke="#000" stroke-width="1.2"/>
<text x="1072.7" y="1156" font-family="'Liberation Serif','DejaVu Serif',serif" font-size="29.74" font-weight="bold" fill="#000" textLength="52.04" lengthAdjust="spacingAndGlyphs">0.16</text>
<text x="1178.19" y="1156" font-family="'Liberation Serif','DejaVu Serif',serif" font-size="29.74" font-weight="bold" fill="#000" textLength="52.04" lengthAdjust="spacingAndGlyphs">0.17</text>
<text x="438.25" y="1124.94" font-family="'Liberation Serif','DejaVu Serif',serif" font-size="29.74" font-weight="bold" fill="#000" textLength="14.87" lengthAdjust="spacingAndGlyphs">0</text>
<line x1="466.2" y1="1010.15" x2="474.2" y2="1010.15" stroke="#000" stroke-width="1.2"/>
<line x1="1197.2" y1="1010.15" x2="1205.2" y2="1010.15" stroke="#000" stroke-width="1.2"/>
<text x="438.4" y="1020" font-family="'Liberation Serif','DejaVu Serif',serif" font-size="29.74" font-weight="bold" fill="#000" textLength="14.87" lengthAdjust="spacingAndGlyphs">2</text>
<line x1="466.2" y1="905.1" x2="474.2" y2="905.1" stroke="#000" stroke-width="1.2"/>
<line x1="1197.2" y1="905.1" x2="1205.2" y2="905.1" stroke="#000" stroke-width="1.2"/>
<text x="437.65" y="914.88" font-family="'Liberation Serif','DejaVu Serif',serif" font-size="29.74" font-weight="bold" fill="#000" textLength="14.87" lengthAdjust="spacingAndGlyphs">4</text>
<line x1="466.2" y1="800.05" x2="474.2" y2="800.05" stroke="#000" stroke-width="1.2"/>
<line x1="1197.2" y1="800.05" x2="1205.2" y2="800.05" stroke="#000" stroke-width="1.2"/>
<text x="438.02" y="809.75" font-family="'Liberation Serif','DejaVu Serif',serif" font-size="29.74" font-weight="bold" fill="#000" textLength="14.87" lengthAdjust="spacingAndGlyphs">6</text>
<text x="438.1" y="704.74" font-family="'Liberation Serif','DejaVu Serif',serif" font-size="29.74" font-weight="bold" fill="#000" textLength="14.87" lengthAdjust="spacingAndGlyphs">8</text>
<path d="M466.2 1074.99 L473.61 1070.16 L481.03 1064.91 L488.44 1059.23 L495.85 1053.1 L503.27 1046.52 L510.68 1039.5 L518.1 1032.02 L525.51 1024.09 L532.92 1015.73 L540.34 1006.95 L547.75 997.78 L555.16 988.23 L562.58 978.35 L569.99 968.18 L577.41 957.75 L584.82 947.13 L592.23 936.36 L599.65 925.51 L607.06 914.66 L614.47 903.86 L621.89 893.19 L629.3 882.73 L636.72 872.56 L644.13 862.76 L651.54 853.41 L658.96 844.57 L666.37 836.34 L673.78 828.78 L681.2 821.96 L688.61 815.94 L696.03 810.77 L703.44 806.51 L710.85 803.19 L718.27 800.85 L725.68 799.5 L733.09 799.17 L740.51 799.85 L747.92 801.54 L755.34 804.22 L762.75 807.87 L770.16 812.45 L777.58 817.92 L784.99 824.22 L792.4 831.3 L799.82 839.1 L807.23 847.55 L814.65 856.57 L822.06 866.09 L829.47 876.03 L836.89 886.3 L844.3 896.84 L851.71 907.56 L859.13 918.39 L866.54 929.25 L873.95 940.08 L881.37 950.8 L888.78 961.37 L896.2 971.71 L903.61 981.79 L911.02 991.56 L918.44 1000.98 L925.85 1010.02 L933.26 1018.66 L940.68 1026.87 L948.09 1034.64 L955.51 1041.97 L962.92 1048.84 L970.33 1055.26 L977.75 1061.23 L985.16 1066.76 L992.57 1071.87 L999.99 1076.56 L1007.4 1080.86 L1014.82 1084.77 L1022.23 1088.33 L1029.64 1091.54 L1037.06 1094.44 L1044.47 1097.04 L1051.88 1099.37 L1059.3 1101.44 L1066.71 1103.28 L1074.13 1104.91 L1081.54 1106.34 L1088.95 1107.6 L1096.37 1108.7 L1103.78 1109.66 L1111.19 1110.49 L1118.61 1111.21 L1126.02 1111.83" fill="none" stroke="#000" stroke-width="6" stroke-linejoin="round"/>
<text x="747.89" y="1195.5" font-family="'Liberation Serif','DejaVu Serif',serif" font-size="33.15" font-weight="bold" fill="#000" textLength="175.95" lengthAdjust="spacingAndGlyphs">TC (W/m.K)</text>
<text x="-978.05" y="423" font-family="'Liberation Serif','DejaVu Serif',serif" font-size="33.15" font-weight="bold" fill="#111" textLength="146.63" lengthAdjust="spacingAndGlyphs" transform="rotate(-90)">Frequency</text>
</g>
<g>
<rect x="1346.5" y="691.5" width="159" height="480" fill="#fff" stroke="#1e1e1e" stroke-width="1"/>
<path d="M1411.02 719.73 L1411.38 720.73 L1411.78 721.73 L1412.23 722.73 L1412.71 723.73 L1413.23 724.73 L1413.8 725.73 L1414.43 726.73 L1415.11 727.73 L1415.82 728.73 L1416.54 729.73 L1417.25 730.73 L1418.03 731.73 L1418.85 732.73 L1419.68 733.73 L1420.47 734.73 L1421.19 735.73 L1421.8 736.73 L1422.39 737.73 L1422.95 738.73 L1423.47 739.73 L1423.91 740.73 L1424.22 741.73 L1424.41 742.73 L1424.57 743.73 L1424.72 744.73 L1424.84 745.73 L1424.95 746.73 L1425.03 747.73 L1425.09 748.73 L1425.11 749.73 L1425.11 750.73 L1425.08 751.73 L1425.01 752.73 L1424.92 753.73 L1424.81 754.73 L1424.68 755.73 L1424.53 756.73 L1424.37 757.73 L1424.12 758.73 L1423.7 759.73 L1423.15 760.73 L1422.49 761.73 L1421.78 762.73 L1421.05 763.73 L1420.25 764.73 L1419.31 765.73 L1418.27 766.73 L1417.18 767.73 L1416.1 768.73 L1415.06 769.73 L1413.99 770.73 L1412.83 771.73 L1411.68 772.73 L1410.63 773.73 L1409.76 774.73 L1409.16 775.73 L1408.69 776.73 L1408.28 777.73 L1407.92 778.73 L1407.62 779.73 L1407.4 780.73 L1407.26 781.73 L1407.14 782.73 L1407.03 783.73 L1406.93 784.73 L1406.85 785.73 L1406.78 786.73 L1406.74 787.73 L1406.71 788.73 L1406.71 789.73 L1406.73 790.73 L1406.78 791.73 L1406.84 792.73 L1406.92 793.73 L1407.01 794.73 L1407.13 795.73 L1407.25 796.73 L1407.43 797.73 L1407.79 798.73 L1408.3 799.73 L1408.89 800.73 L1409.51 801.73 L1410.11 802.73 L1410.69 803.73 L1411.34 804.73 L1412.03 805.73 L1412.73 806.73 L1413.42 807.73 L1414.07 808.73 L1414.64 809.73 L1415.11 810.73 L1415.52 811.73 L1415.93 812.73 L1416.31 813.73 L1416.62 814.73 L1416.82 815.73 L1416.89 816.73 L1416.75 817.73 L1416.41 818.73 L1415.91 819.73 L1415.31 820.73 L1414.67 821.73 L1414.03 822.73 L1413.27 823.73 L1412.35 824.73 L1411.33 825.73 L1410.23 826.73 L1409.1 827.73 L1407.99 828.73 L1406.94 829.73 L1405.98 830.73 L1405.04 831.73 L1404.11 832.73 L1403.19 833.73 L1402.3 834.73 L1401.43 835.73 L1400.6 836.73 L1399.82 837.73 L1399.07 838.73 L1398.3 839.73 L1397.52 840.73 L1396.77 841.73 L1396.07 842.73 L1395.46 843.73 L1394.97 844.73 L1394.64 845.73 L1394.44 846.73 L1394.27 847.73 L1394.13 848.73 L1394.03 849.73 L1393.98 850.73 L1394.04 851.73 L1394.24 852.73 L1394.58 853.73 L1395.01 854.73 L1395.5 855.73 L1396.28 856.73 L1397.58 857.73 L1399.24 858.73 L1401.05 859.73 L1402.83 860.73 L1404.4 861.73 L1405.84 862.73 L1407.31 863.73 L1408.75 864.73 L1410.1 865.73 L1411.31 866.73 L1412.34 867.73 L1413.33 868.73 L1414.32 869.73 L1415.22 870.73 L1415.95 871.73 L1416.4 872.73 L1416.49 873.73 L1416.21 874.73 L1415.64 875.73 L1414.84 876.73 L1413.88 877.73 L1412.83 878.73 L1411.71 879.73 L1410.15 880.73 L1408.19 881.73 L1405.99 882.73 L1403.69 883.73 L1401.44 884.73 L1399.31 885.73 L1397 886.73 L1394.55 887.73 L1392.08 888.73 L1389.69 889.73 L1387.49 890.73 L1385.61 891.73 L1384.14 892.73 L1383.07 893.73 L1382.04 894.73 L1381.07 895.73 L1380.2 896.73 L1379.46 897.73 L1378.87 898.73 L1378.48 899.73 L1378.32 900.73 L1378.5 901.73 L1379.11 902.73 L1380.04 903.73 L1381.2 904.73 L1382.49 905.73 L1383.78 906.73 L1385.31 907.73 L1387.27 908.73 L1389.53 909.73 L1391.96 910.73 L1394.42 911.73 L1396.79 912.73 L1398.92 913.73 L1400.7 914.73 L1402.29 915.73 L1403.82 916.73 L1405.24 917.73 L1406.52 918.73 L1407.62 919.73 L1408.51 920.73 L1409.35 921.73 L1410.16 922.73 L1410.88 923.73 L1411.42 924.73 L1411.74 925.73 L1411.75 926.73 L1411.21 927.73 L1410.17 928.73 L1408.76 929.73 L1407.08 930.73 L1405.24 931.73 L1403.2 932.73 L1400.3 933.73 L1396.67 934.73 L1392.59 935.73 L1388.33 936.73 L1384.17 937.73 L1380.16 938.73 L1376.05 939.73 L1372.17 940.73 L1368.25 941.73 L1364.64 942.73 L1361.72 943.73 L1359.45 944.73 L1357.26 945.73 L1355.36 946.73 L1354.01 947.73 L1353.45 948.73 L1353.69 949.73 L1354.44 950.73 L1355.56 951.73 L1356.92 952.73 L1358.37 953.73 L1360.31 954.73 L1362.99 955.73 L1366.12 956.73 L1369.41 957.73 L1372.58 958.73 L1375.35 959.73 L1377.94 960.73 L1380.51 961.73 L1382.99 962.73 L1385.31 963.73 L1387.38 964.73 L1389.15 965.73 L1390.9 966.73 L1392.65 967.73 L1394.29 968.73 L1395.71 969.73 L1396.78 970.73 L1397.4 971.73 L1397.45 972.73 L1396.92 973.73 L1395.92 974.73 L1394.56 975.73 L1392.95 976.73 L1391.21 977.73 L1389.45 978.73 L1387.65 979.73 L1385.37 980.73 L1382.71 981.73 L1379.83 982.73 L1376.9 983.73 L1374.1 984.73 L1371.6 985.73 L1369.56 986.73 L1368 987.73 L1366.56 988.73 L1365.25 989.73 L1364.1 990.73 L1363.13 991.73 L1362.35 992.73 L1361.72 993.73 L1361.11 994.73 L1360.56 995.73 L1360.12 996.73 L1359.82 997.73 L1359.71 998.73 L1359.79 999.73 L1359.99 1000.73 L1360.31 1001.73 L1360.71 1002.73 L1361.16 1003.73 L1361.64 1004.73 L1362.12 1005.73 L1362.57 1006.73 L1362.97 1007.73 L1363.29 1008.73 L1363.6 1009.73 L1363.92 1010.73 L1364.24 1011.73 L1364.55 1012.73 L1364.85 1013.73 L1365.11 1014.73 L1365.32 1015.73 L1365.48 1016.73 L1365.57 1017.73 L1365.58 1018.73 L1365.47 1019.73 L1365.3 1020.73 L1365.1 1021.73 L1364.93 1022.73 L1364.82 1023.73 L1364.82 1024.73 L1364.91 1025.73 L1365.08 1026.73 L1365.33 1027.73 L1365.65 1028.73 L1366.04 1029.73 L1366.49 1030.73 L1366.99 1031.73 L1367.77 1032.73 L1369.38 1033.73 L1371.57 1034.73 L1374.03 1035.73 L1376.47 1036.73 L1378.57 1037.73 L1380.3 1038.73 L1381.99 1039.73 L1383.62 1040.73 L1385.13 1041.73 L1386.49 1042.73 L1387.65 1043.73 L1388.73 1044.73 L1389.8 1045.73 L1390.74 1046.73 L1391.4 1047.73 L1391.63 1048.73 L1391.19 1049.73 L1390.08 1050.73 L1388.46 1051.73 L1386.52 1052.73 L1384.44 1053.73 L1382.38 1054.73 L1380.52 1055.73 L1378.51 1056.73 L1376.24 1057.73 L1373.84 1058.73 L1371.47 1059.73 L1369.25 1060.73 L1367.33 1061.73 L1365.85 1062.73 L1364.9 1063.73 L1364.12 1064.73 L1363.41 1065.73 L1362.83 1066.73 L1362.43 1067.73 L1362.26 1068.73 L1362.47 1069.73 L1363.16 1070.73 L1364.22 1071.73 L1365.55 1072.73 L1367.02 1073.73 L1368.53 1074.73 L1370.12 1075.73 L1372.25 1076.73 L1374.79 1077.73 L1377.53 1078.73 L1380.28 1079.73 L1382.82 1080.73 L1384.96 1081.73 L1386.49 1082.73 L1387.49 1083.73 L1388.41 1084.73 L1389.28 1085.73 L1390.04 1086.73 L1390.69 1087.73 L1391.19 1088.73 L1391.51 1089.73 L1391.63 1090.73 L1391.6 1091.73 L1391.5 1092.73 L1391.35 1093.73 L1391.16 1094.73 L1390.94 1095.73 L1390.71 1096.73 L1390.47 1097.73 L1390.23 1098.73 L1389.96 1099.73 L1389.63 1100.73 L1389.26 1101.73 L1388.88 1102.73 L1388.51 1103.73 L1388.17 1104.73 L1387.88 1105.73 L1387.66 1106.73 L1387.46 1107.73 L1387.26 1108.73 L1387.08 1109.73 L1386.93 1110.73 L1386.81 1111.73 L1386.75 1112.73 L1386.74 1113.73 L1386.79 1114.73 L1386.88 1115.73 L1387.02 1116.73 L1387.19 1117.73 L1387.39 1118.73 L1387.61 1119.73 L1387.9 1120.73 L1388.41 1121.73 L1389.1 1122.73 L1389.89 1123.73 L1390.69 1124.73 L1391.43 1125.73 L1392.07 1126.73 L1392.7 1127.73 L1393.32 1128.73 L1393.93 1129.73 L1394.54 1130.73 L1395.14 1131.73 L1395.73 1132.73 L1396.31 1133.73 L1396.89 1134.73 L1397.45 1135.73 L1397.51 1135.82 L1454.29 1135.82 L1454.35 1135.73 L1454.91 1134.73 L1455.49 1133.73 L1456.07 1132.73 L1456.66 1131.73 L1457.26 1130.73 L1457.87 1129.73 L1458.48 1128.73 L1459.1 1127.73 L1459.73 1126.73 L1460.37 1125.73 L1461.11 1124.73 L1461.91 1123.73 L1462.7 1122.73 L1463.39 1121.73 L1463.9 1120.73 L1464.19 1119.73 L1464.41 1118.73 L1464.61 1117.73 L1464.78 1116.73 L1464.92 1115.73 L1465.01 1114.73 L1465.06 1113.73 L1465.05 1112.73 L1464.99 1111.73 L1464.87 1110.73 L1464.72 1109.73 L1464.54 1108.73 L1464.34 1107.73 L1464.14 1106.73 L1463.92 1105.73 L1463.63 1104.73 L1463.29 1103.73 L1462.92 1102.73 L1462.54 1101.73 L1462.17 1100.73 L1461.84 1099.73 L1461.57 1098.73 L1461.33 1097.73 L1461.09 1096.73 L1460.86 1095.73 L1460.64 1094.73 L1460.45 1093.73 L1460.3 1092.73 L1460.2 1091.73 L1460.17 1090.73 L1460.29 1089.73 L1460.61 1088.73 L1461.11 1087.73 L1461.76 1086.73 L1462.52 1085.73 L1463.39 1084.73 L1464.31 1083.73 L1465.31 1082.73 L1466.84 1081.73 L1468.98 1080.73 L1471.52 1079.73 L1474.27 1078.73 L1477.01 1077.73 L1479.55 1076.73 L1481.68 1075.73 L1483.27 1074.73 L1484.78 1073.73 L1486.25 1072.73 L1487.58 1071.73 L1488.64 1070.73 L1489.33 1069.73 L1489.54 1068.73 L1489.37 1067.73 L1488.97 1066.73 L1488.39 1065.73 L1487.68 1064.73 L1486.9 1063.73 L1485.95 1062.73 L1484.47 1061.73 L1482.55 1060.73 L1480.33 1059.73 L1477.96 1058.73 L1475.56 1057.73 L1473.29 1056.73 L1471.28 1055.73 L1469.42 1054.73 L1467.36 1053.73 L1465.28 1052.73 L1463.34 1051.73 L1461.72 1050.73 L1460.61 1049.73 L1460.17 1048.73 L1460.4 1047.73 L1461.06 1046.73 L1462 1045.73 L1463.07 1044.73 L1464.15 1043.73 L1465.31 1042.73 L1466.67 1041.73 L1468.18 1040.73 L1469.81 1039.73 L1471.5 1038.73 L1473.23 1037.73 L1475.33 1036.73 L1477.77 1035.73 L1480.23 1034.73 L1482.42 1033.73 L1484.03 1032.73 L1484.81 1031.73 L1485.31 1030.73 L1485.76 1029.73 L1486.15 1028.73 L1486.47 1027.73 L1486.72 1026.73 L1486.89 1025.73 L1486.98 1024.73 L1486.98 1023.73 L1486.87 1022.73 L1486.7 1021.73 L1486.5 1020.73 L1486.33 1019.73 L1486.22 1018.73 L1486.23 1017.73 L1486.32 1016.73 L1486.48 1015.73 L1486.69 1014.73 L1486.95 1013.73 L1487.25 1012.73 L1487.56 1011.73 L1487.88 1010.73 L1488.2 1009.73 L1488.51 1008.73 L1488.83 1007.73 L1489.23 1006.73 L1489.68 1005.73 L1490.16 1004.73 L1490.64 1003.73 L1491.09 1002.73 L1491.49 1001.73 L1491.81 1000.73 L1492.01 999.73 L1492.09 998.73 L1491.98 997.73 L1491.68 996.73 L1491.24 995.73 L1490.69 994.73 L1490.08 993.73 L1489.45 992.73 L1488.67 991.73 L1487.7 990.73 L1486.55 989.73 L1485.24 988.73 L1483.8 987.73 L1482.24 986.73 L1480.2 985.73 L1477.7 984.73 L1474.9 983.73 L1471.97 982.73 L1469.09 981.73 L1466.43 980.73 L1464.15 979.73 L1462.35 978.73 L1460.59 977.73 L1458.85 976.73 L1457.24 975.73 L1455.88 974.73 L1454.88 973.73 L1454.35 972.73 L1454.4 971.73 L1455.02 970.73 L1456.09 969.73 L1457.51 968.73 L1459.15 967.73 L1460.9 966.73 L1462.65 965.73 L1464.42 964.73 L1466.49 963.73 L1468.81 962.73 L1471.29 961.73 L1473.86 960.73 L1476.45 959.73 L1479.22 958.73 L1482.39 957.73 L1485.68 956.73 L1488.81 955.73 L1491.49 954.73 L1493.43 953.73 L1494.88 952.73 L1496.24 951.73 L1497.36 950.73 L1498.11 949.73 L1498.35 948.73 L1497.79 947.73 L1496.44 946.73 L1494.54 945.73 L1492.35 944.73 L1490.08 943.73 L1487.16 942.73 L1483.55 941.73 L1479.63 940.73 L1475.75 939.73 L1471.64 938.73 L1467.63 937.73 L1463.47 936.73 L1459.21 935.73 L1455.13 934.73 L1451.5 933.73 L1448.6 932.73 L1446.56 931.73 L1444.72 930.73 L1443.04 929.73 L1441.63 928.73 L1440.59 927.73 L1440.05 926.73 L1440.06 925.73 L1440.38 924.73 L1440.92 923.73 L1441.64 922.73 L1442.45 921.73 L1443.29 920.73 L1444.18 919.73 L1445.28 918.73 L1446.56 917.73 L1447.98 916.73 L1449.51 915.73 L1451.1 914.73 L1452.88 913.73 L1455.01 912.73 L1457.38 911.73 L1459.84 910.73 L1462.27 909.73 L1464.53 908.73 L1466.49 907.73 L1468.02 906.73 L1469.31 905.73 L1470.6 904.73 L1471.76 903.73 L1472.69 902.73 L1473.3 901.73 L1473.48 900.73 L1473.32 899.73 L1472.93 898.73 L1472.34 897.73 L1471.6 896.73 L1470.73 895.73 L1469.76 894.73 L1468.73 893.73 L1467.66 892.73 L1466.19 891.73 L1464.31 890.73 L1462.11 889.73 L1459.72 888.73 L1457.25 887.73 L1454.8 886.73 L1452.49 885.73 L1450.36 884.73 L1448.11 883.73 L1445.81 882.73 L1443.61 881.73 L1441.65 880.73 L1440.09 879.73 L1438.97 878.73 L1437.92 877.73 L1436.96 876.73 L1436.16 875.73 L1435.59 874.73 L1435.31 873.73 L1435.4 872.73 L1435.85 871.73 L1436.58 870.73 L1437.48 869.73 L1438.47 868.73 L1439.46 867.73 L1440.49 866.73 L1441.7 865.73 L1443.05 864.73 L1444.49 863.73 L1445.96 862.73 L1447.4 861.73 L1448.97 860.73 L1450.75 859.73 L1452.56 858.73 L1454.22 857.73 L1455.52 856.73 L1456.3 855.73 L1456.79 854.73 L1457.22 853.73 L1457.56 852.73 L1457.76 851.73 L1457.82 850.73 L1457.77 849.73 L1457.67 848.73 L1457.53 847.73 L1457.36 846.73 L1457.16 845.73 L1456.83 844.73 L1456.34 843.73 L1455.73 842.73 L1455.03 841.73 L1454.28 840.73 L1453.5 839.73 L1452.73 838.73 L1451.98 837.73 L1451.2 836.73 L1450.37 835.73 L1449.5 834.73 L1448.61 833.73 L1447.69 832.73 L1446.76 831.73 L1445.82 830.73 L1444.86 829.73 L1443.81 828.73 L1442.7 827.73 L1441.57 826.73 L1440.47 825.73 L1439.45 824.73 L1438.53 823.73 L1437.77 822.73 L1437.13 821.73 L1436.49 820.73 L1435.89 819.73 L1435.39 818.73 L1435.05 817.73 L1434.91 816.73 L1434.98 815.73 L1435.18 814.73 L1435.49 813.73 L1435.87 812.73 L1436.28 811.73 L1436.69 810.73 L1437.16 809.73 L1437.73 808.73 L1438.38 807.73 L1439.07 806.73 L1439.77 805.73 L1440.46 804.73 L1441.11 803.73 L1441.69 802.73 L1442.29 801.73 L1442.91 800.73 L1443.5 799.73 L1444.01 798.73 L1444.37 797.73 L1444.55 796.73 L1444.67 795.73 L1444.79 794.73 L1444.88 793.73 L1444.96 792.73 L1445.02 791.73 L1445.07 790.73 L1445.09 789.73 L1445.09 788.73 L1445.06 787.73 L1445.02 786.73 L1444.95 785.73 L1444.87 784.73 L1444.77 783.73 L1444.66 782.73 L1444.54 781.73 L1444.4 780.73 L1444.18 779.73 L1443.88 778.73 L1443.52 777.73 L1443.11 776.73 L1442.64 775.73 L1442.04 774.73 L1441.17 773.73 L1440.12 772.73 L1438.97 771.73 L1437.81 770.73 L1436.74 769.73 L1435.7 768.73 L1434.62 767.73 L1433.53 766.73 L1432.49 765.73 L1431.55 764.73 L1430.75 763.73 L1430.02 762.73 L1429.31 761.73 L1428.65 760.73 L1428.1 759.73 L1427.68 758.73 L1427.43 757.73 L1427.27 756.73 L1427.12 755.73 L1426.99 754.73 L1426.88 753.73 L1426.79 752.73 L1426.72 751.73 L1426.69 750.73 L1426.69 749.73 L1426.71 748.73 L1426.77 747.73 L1426.85 746.73 L1426.96 745.73 L1427.08 744.73 L1427.23 743.73 L1427.39 742.73 L1427.58 741.73 L1427.89 740.73 L1428.33 739.73 L1428.85 738.73 L1429.41 737.73 L1430 736.73 L1430.61 735.73 L1431.33 734.73 L1432.12 733.73 L1432.95 732.73 L1433.77 731.73 L1434.55 730.73 L1435.26 729.73 L1435.98 728.73 L1436.69 727.73 L1437.37 726.73 L1438 725.73 L1438.57 724.73 L1439.09 723.73 L1439.57 722.73 L1440.02 721.73 L1440.42 720.73 L1440.78 719.73 Z" fill="#00ffff"/>
<text x="1290.72" y="699.5" font-family="'Liberation Serif','DejaVu Serif',serif" font-size="25.24" font-weight="bold" fill="#1e1e1e" textLength="45.06" lengthAdjust="spacingAndGlyphs">0.16</text>
<line x1="1346.5" y1="773.5" x2="1351.5" y2="773.5" stroke="#1e1e1e" stroke-width="1"/>
<line x1="1500.5" y1="773.5" x2="1505.5" y2="773.5" stroke="#1e1e1e" stroke-width="1"/>
<text x="1290.91" y="782.15" font-family="'Liberation Serif','DejaVu Serif',serif" font-size="25.24" font-weight="bold" fill="#1e1e1e" textLength="45.06" lengthAdjust="spacingAndGlyphs">0.15</text>
<line x1="1346.5" y1="856.5" x2="1351.5" y2="856.5" stroke="#1e1e1e" stroke-width="1"/>
<line x1="1500.5" y1="856.5" x2="1505.5" y2="856.5" stroke="#1e1e1e" stroke-width="1"/>
<text x="1290.39" y="864.8" font-family="'Liberation Serif','DejaVu Serif',serif" font-size="25.24" font-weight="bold" fill="#1e1e1e" textLength="45.06" lengthAdjust="spacingAndGlyphs">0.14</text>
<line x1="1346.5" y1="939.5" x2="1351.5" y2="939.5" stroke="#1e1e1e" stroke-width="1"/>
<line x1="1500.5" y1="939.5" x2="1505.5" y2="939.5" stroke="#1e1e1e" stroke-width="1"/>
<text x="1290.84" y="947.45" font-family="'Liberation Serif','DejaVu Serif',serif" font-size="25.24" font-weight="bold" fill="#1e1e1e" textLength="45.06" lengthAdjust="spacingAndGlyphs">0.13</text>
<line x1="1346.5" y1="1021.5" x2="1351.5" y2="1021.5" stroke="#1e1e1e" stroke-width="1"/>
<line x1="1500.5" y1="1021.5" x2="1505.5" y2="1021.5" stroke="#1e1e1e" stroke-width="1"/>
<text x="1291.04" y="1030.1" font-family="'Liberation Serif','DejaVu Serif',serif" font-size="25.24" font-weight="bold" fill="#1e1e1e" textLength="45.06" lengthAdjust="spacingAndGlyphs">0.12</text>
<line x1="1346.5" y1="1104.5" x2="1351.5" y2="1104.5" stroke="#1e1e1e" stroke-width="1"/>
<line x1="1500.5" y1="1104.5" x2="1505.5" y2="1104.5" stroke="#1e1e1e" stroke-width="1"/>
<text x="1292.71" y="1112.75" font-family="'Liberation Serif','DejaVu Serif',serif" font-size="25.24" font-weight="bold" fill="#1e1e1e" textLength="43.64" lengthAdjust="spacingAndGlyphs">0.11</text>
<line x1="1425.5" y1="691.5" x2="1425.5" y2="696.5" stroke="#1e1e1e" stroke-width="1"/>
<line x1="1425.5" y1="1166.5" x2="1425.5" y2="1171.5" stroke="#1e1e1e" stroke-width="1"/>
<text x="1366.93" y="1204" font-family="'Liberation Serif','DejaVu Serif',serif" font-size="25.24" font-weight="bold" fill="#1e1e1e" textLength="117.06" lengthAdjust="spacingAndGlyphs">Violin Plot</text>
<text x="-1007.47" y="1279" font-family="'Liberation Serif','DejaVu Serif',serif" font-size="28.2" font-weight="bold" fill="#1e1e1e" textLength="152.75" lengthAdjust="spacingAndGlyphs" transform="rotate(-90)">TC (W/m.K)</text>
</g>
<rect x="5" y="1227" width="77" height="562" fill="#00ff00"/>
<rect x="84" y="1227" width="1443" height="562" fill="#fff"/>
<text y="61.2" transform="rotate(-90)" font-family="'Liberation Sans','DejaVu Sans',sans-serif" font-size="66.6" fill="#000" stroke="#000" stroke-width="2" stroke-linejoin="round"><tspan x="-1703.02" y="59.8" font-size="61.4" textLength="19.28" lengthAdjust="spacingAndGlyphs">(</tspan><tspan x="-1681.57" y="61.2" font-size="61.5" textLength="27.91" lengthAdjust="spacingAndGlyphs">c</tspan><tspan x="-1650.02" y="59.8" font-size="61.4" textLength="18.52" lengthAdjust="spacingAndGlyphs">)</tspan> <tspan x="-1609.98" y="61.2" textLength="60.4" lengthAdjust="spacingAndGlyphs">M</tspan><tspan x="-1546.21" y="61.2" textLength="41.2" lengthAdjust="spacingAndGlyphs">R</tspan> <tspan x="-1481.77" y="61.4" font-size="54.8" textLength="35.88" lengthAdjust="spacingAndGlyphs">=</tspan> <tspan x="-1425.46" y="61.2" textLength="37.04" lengthAdjust="spacingAndGlyphs">1</tspan><tspan x="-1383.18" y="61.2" textLength="33.13" lengthAdjust="spacingAndGlyphs">2</tspan><tspan x="-1349.86" y="61.2" textLength="37.04" lengthAdjust="spacingAndGlyphs">1</tspan></text>
<g>
<rect x="187.5" y="1252.5" width="167" height="491" fill="#fff" stroke="#1e1e1e" stroke-width="1"/>
<text x="138.97" y="1259.42" font-family="'Liberation Serif','DejaVu Serif',serif" font-size="22.23" font-weight="bold" fill="#1e1e1e" textLength="40.07" lengthAdjust="spacingAndGlyphs">0.18</text>
<line x1="187.5" y1="1313.5" x2="192.5" y2="1313.5" stroke="#1e1e1e" stroke-width="1"/>
<line x1="349.5" y1="1313.5" x2="354.5" y2="1313.5" stroke="#1e1e1e" stroke-width="1"/>
<text x="138.8" y="1320.79" font-family="'Liberation Serif','DejaVu Serif',serif" font-size="22.23" font-weight="bold" fill="#1e1e1e" textLength="40.07" lengthAdjust="spacingAndGlyphs">0.17</text>
<line x1="187.5" y1="1374.5" x2="192.5" y2="1374.5" stroke="#1e1e1e" stroke-width="1"/>
<line x1="349.5" y1="1374.5" x2="354.5" y2="1374.5" stroke="#1e1e1e" stroke-width="1"/>
<text x="138.92" y="1382.15" font-family="'Liberation Serif','DejaVu Serif',serif" font-size="22.23" font-weight="bold" fill="#1e1e1e" textLength="40.07" lengthAdjust="spacingAndGlyphs">0.16</text>
<line x1="187.5" y1="1436.5" x2="192.5" y2="1436.5" stroke="#1e1e1e" stroke-width="1"/>
<line x1="349.5" y1="1436.5" x2="354.5" y2="1436.5" stroke="#1e1e1e" stroke-width="1"/>
<text x="139.09" y="1443.51" font-family="'Liberation Serif','DejaVu Serif',serif" font-size="22.23" font-weight="bold" fill="#1e1e1e" textLength="40.07" lengthAdjust="spacingAndGlyphs">0.15</text>
<line x1="187.5" y1="1497.5" x2="192.5" y2="1497.5" stroke="#1e1e1e" stroke-width="1"/>
<line x1="349.5" y1="1497.5" x2="354.5" y2="1497.5" stroke="#1e1e1e" stroke-width="1"/>
<text x="138.63" y="1504.87" font-family="'Liberation Serif','DejaVu Serif',serif" font-size="22.23" font-weight="bold" fill="#1e1e1e" textLength="40.07" lengthAdjust="spacingAndGlyphs">0.14</text>
<line x1="187.5" y1="1559.5" x2="192.5" y2="1559.5" stroke="#1e1e1e" stroke-width="1"/>
<line x1="349.5" y1="1559.5" x2="354.5" y2="1559.5" stroke="#1e1e1e" stroke-width="1"/>
<text x="139.03" y="1566.24" font-family="'Liberation Serif','DejaVu Serif',serif" font-size="22.23" font-weight="bold" fill="#1e1e1e" textLength="40.07" lengthAdjust="spacingAndGlyphs">0.13</text>
<line x1="187.5" y1="1620.5" x2="192.5" y2="1620.5" stroke="#1e1e1e" stroke-width="1"/>
<line x1="349.5" y1="1620.5" x2="354.5" y2="1620.5" stroke="#1e1e1e" stroke-width="1"/>
<text x="139.2" y="1627.6" font-family="'Liberation Serif','DejaVu Serif',serif" font-size="22.23" font-weight="bold" fill="#1e1e1e" textLength="40.07" lengthAdjust="spacingAndGlyphs">0.12</text>
<line x1="187.5" y1="1681.5" x2="192.5" y2="1681.5" stroke="#1e1e1e" stroke-width="1"/>
<line x1="349.5" y1="1681.5" x2="354.5" y2="1681.5" stroke="#1e1e1e" stroke-width="1"/>
<text x="140.69" y="1688.96" font-family="'Liberation Serif','DejaVu Serif',serif" font-size="22.23" font-weight="bold" fill="#1e1e1e" textLength="38.81" lengthAdjust="spacingAndGlyphs">0.11</text>
<text x="150.88" y="1750.32" font-family="'Liberation Serif','DejaVu Serif',serif" font-size="22.23" font-weight="bold" fill="#1e1e1e" textLength="28.62" lengthAdjust="spacingAndGlyphs">0.1</text>
<line x1="270.5" y1="1252.5" x2="270.5" y2="1257.5" stroke="#1e1e1e" stroke-width="1"/>
<line x1="270.5" y1="1738.5" x2="270.5" y2="1743.5" stroke="#1e1e1e" stroke-width="1"/>
<line x1="270.5" y1="1398.5" x2="270.5" y2="1533.5" stroke="#111" stroke-width="1.3"/>
<line x1="270.5" y1="1635.5" x2="270.5" y2="1694.5" stroke="#111" stroke-width="1.3"/>
<line x1="249.6" y1="1398.5" x2="292" y2="1398.5" stroke="#111" stroke-width="1.2"/>
<line x1="249.6" y1="1694.5" x2="292" y2="1694.5" stroke="#111" stroke-width="1.2"/>
<rect x="229.5" y="1533.5" width="83" height="102" fill="#00ff00" stroke="#111" stroke-width="1.1"/>
<line x1="229.5" y1="1593.5" x2="312.5" y2="1593.5" stroke="#111" stroke-width="1.2"/>
<text x="228.81" y="1773" font-family="'Liberation Serif','DejaVu Serif',serif" font-size="22.23" font-weight="bold" fill="#1e1e1e" textLength="83.32" lengthAdjust="spacingAndGlyphs">Box Plot</text>
<text x="-1566.14" y="128" font-family="'Liberation Serif','DejaVu Serif',serif" font-size="25.29" font-weight="bold" fill="#1e1e1e" textLength="137" lengthAdjust="spacingAndGlyphs" transform="rotate(-90)">TC (W/m.K)</text>
</g>
<g>
<rect x="458.1" y="1253.7" width="752.6" height="432.5" fill="#fff"/>
<rect x="502.05" y="1590.79" width="55.6" height="95.41" fill="#00ff00"/>
<rect x="558.95" y="1494.68" width="55.6" height="191.52" fill="#00ff00"/>
<rect x="615.85" y="1398.57" width="55.6" height="287.63" fill="#00ff00"/>
<rect x="672.75" y="1302.46" width="55.6" height="383.74" fill="#00ff00"/>
<rect x="729.65" y="1398.57" width="55.6" height="287.63" fill="#00ff00"/>
<rect x="786.55" y="1542.73" width="55.6" height="143.47" fill="#00ff00"/>
<rect x="843.45" y="1542.73" width="55.6" height="143.47" fill="#00ff00"/>
<rect x="900.35" y="1638.84" width="55.6" height="47.36" fill="#00ff00"/>
<rect x="957.25" y="1590.79" width="55.6" height="95.41" fill="#00ff00"/>
<rect x="1014.15" y="1638.84" width="55.6" height="47.36" fill="#00ff00"/>
<rect x="458.1" y="1253.7" width="752.6" height="432.5" fill="none" stroke="#1a1a1a" stroke-width="1.4"/>
<line x1="457.4" y1="1253.7" x2="1211.4" y2="1253.7" stroke="#000" stroke-width="1.9"/>
<text x="438.65" y="1727" font-family="'Liberation Serif','DejaVu Serif',serif" font-size="30.2" font-weight="bold" fill="#000" textLength="37.74" lengthAdjust="spacingAndGlyphs">0.1</text>
<line x1="565.61" y1="1686.2" x2="565.61" y2="1678.2" stroke="#000" stroke-width="1.2"/>
<line x1="565.61" y1="1253.7" x2="565.61" y2="1261.7" stroke="#000" stroke-width="1.2"/>
<text x="539.45" y="1727" font-family="'Liberation Serif','DejaVu Serif',serif" font-size="30.2" font-weight="bold" fill="#000" textLength="51.18" lengthAdjust="spacingAndGlyphs">0.11</text>
<line x1="673.13" y1="1686.2" x2="673.13" y2="1678.2" stroke="#000" stroke-width="1.2"/>
<line x1="673.13" y1="1253.7" x2="673.13" y2="1261.7" stroke="#000" stroke-width="1.2"/>
<text x="645.98" y="1727" font-family="'Liberation Serif','DejaVu Serif',serif" font-size="30.2" font-weight="bold" fill="#000" textLength="52.84" lengthAdjust="spacingAndGlyphs">0.12</text>
<line x1="780.64" y1="1686.2" x2="780.64" y2="1678.2" stroke="#000" stroke-width="1.2"/>
<line x1="780.64" y1="1253.7" x2="780.64" y2="1261.7" stroke="#000" stroke-width="1.2"/>
<text x="753.38" y="1727" font-family="'Liberation Serif','DejaVu Serif',serif" font-size="30.2" font-weight="bold" fill="#000" textLength="52.84" lengthAdjust="spacingAndGlyphs">0.13</text>
<line x1="888.16" y1="1686.2" x2="888.16" y2="1678.2" stroke="#000" stroke-width="1.2"/>
<line x1="888.16" y1="1253.7" x2="888.16" y2="1261.7" stroke="#000" stroke-width="1.2"/>
<text x="860.63" y="1727" font-family="'Liberation Serif','DejaVu Serif',serif" font-size="30.2" font-weight="bold" fill="#000" textLength="52.84" lengthAdjust="spacingAndGlyphs">0.14</text>
<line x1="995.67" y1="1686.2" x2="995.67" y2="1678.2" stroke="#000" stroke-width="1.2"/>
<line x1="995.67" y1="1253.7" x2="995.67" y2="1261.7" stroke="#000" stroke-width="1.2"/>
<text x="968.45" y="1727" font-family="'Liberation Serif','DejaVu Serif',serif" font-size="30.2" font-weight="bold" fill="#000" textLength="52.84" lengthAdjust="spacingAndGlyphs">0.15</text>
<line x1="1103.19" y1="1686.2" x2="1103.19" y2="1678.2" stroke="#000" stroke-width="1.2"/>
<line x1="1103.19" y1="1253.7" x2="1103.19" y2="1261.7" stroke="#000" stroke-width="1.2"/>
<text x="1075.85" y="1727" font-family="'Liberation Serif','DejaVu Serif',serif" font-size="30.2" font-weight="bold" fill="#000" textLength="52.84" lengthAdjust="spacingAndGlyphs">0.16</text>
<text x="1183.29" y="1727" font-family="'Liberation Serif','DejaVu Serif',serif" font-size="30.2" font-weight="bold" fill="#000" textLength="52.84" lengthAdjust="spacingAndGlyphs">0.17</text>
<text x="430.03" y="1696.09" font-family="'Liberation Serif','DejaVu Serif',serif" font-size="30.2" font-weight="bold" fill="#000" textLength="15.1" lengthAdjust="spacingAndGlyphs">0</text>
<line x1="458.1" y1="1590.09" x2="466.1" y2="1590.09" stroke="#000" stroke-width="1.2"/>
<line x1="1202.7" y1="1590.09" x2="1210.7" y2="1590.09" stroke="#000" stroke-width="1.2"/>
<text x="430.19" y="1600.09" font-family="'Liberation Serif','DejaVu Serif',serif" font-size="30.2" font-weight="bold" fill="#000" textLength="15.1" lengthAdjust="spacingAndGlyphs">2</text>
<line x1="458.1" y1="1493.98" x2="466.1" y2="1493.98" stroke="#000" stroke-width="1.2"/>
<line x1="1202.7" y1="1493.98" x2="1210.7" y2="1493.98" stroke="#000" stroke-width="1.2"/>
<text x="429.43" y="1503.9" font-family="'Liberation Serif','DejaVu Serif',serif" font-size="30.2" font-weight="bold" fill="#000" textLength="15.1" lengthAdjust="spacingAndGlyphs">4</text>
<line x1="458.1" y1="1397.87" x2="466.1" y2="1397.87" stroke="#000" stroke-width="1.2"/>
<line x1="1202.7" y1="1397.87" x2="1210.7" y2="1397.87" stroke="#000" stroke-width="1.2"/>
<text x="429.81" y="1407.72" font-family="'Liberation Serif','DejaVu Serif',serif" font-size="30.2" font-weight="bold" fill="#000" textLength="15.1" lengthAdjust="spacingAndGlyphs">6</text>
<line x1="458.1" y1="1301.76" x2="466.1" y2="1301.76" stroke="#000" stroke-width="1.2"/>
<line x1="1202.7" y1="1301.76" x2="1210.7" y2="1301.76" stroke="#000" stroke-width="1.2"/>
<text x="429.88" y="1311.64" font-family="'Liberation Serif','DejaVu Serif',serif" font-size="30.2" font-weight="bold" fill="#000" textLength="15.1" lengthAdjust="spacingAndGlyphs">8</text>
<path d="M458.1 1659.28 L465.59 1655.61 L473.08 1651.56 L480.57 1647.1 L488.06 1642.22 L495.55 1636.91 L503.04 1631.14 L510.53 1624.91 L518.02 1618.22 L525.51 1611.05 L533 1603.41 L540.49 1595.31 L547.98 1586.76 L555.47 1577.79 L562.96 1568.41 L570.45 1558.66 L577.94 1548.58 L585.43 1538.21 L592.92 1527.62 L600.41 1516.85 L607.9 1505.97 L615.38 1495.06 L622.87 1484.19 L630.36 1473.43 L637.85 1462.88 L645.34 1452.61 L652.83 1442.71 L660.32 1433.27 L667.81 1424.37 L675.3 1416.09 L682.79 1408.51 L690.28 1401.7 L697.77 1395.73 L705.26 1390.65 L712.75 1386.53 L720.24 1383.4 L727.73 1381.29 L735.22 1380.22 L742.71 1380.21 L750.2 1381.26 L757.69 1383.35 L765.18 1386.46 L772.67 1390.57 L780.16 1395.63 L787.65 1401.58 L795.14 1408.37 L802.63 1415.94 L810.12 1424.21 L817.61 1433.1 L825.1 1442.53 L832.59 1452.43 L840.08 1462.69 L847.57 1473.24 L855.06 1483.99 L862.55 1494.86 L870.04 1505.77 L877.53 1516.65 L885.02 1527.42 L892.51 1538.02 L900 1548.39 L907.49 1558.47 L914.98 1568.23 L922.47 1577.62 L929.95 1586.6 L937.44 1595.16 L944.93 1603.27 L952.42 1610.91 L959.91 1618.09 L967.4 1624.8 L974.89 1631.03 L982.38 1636.81 L989.87 1642.13 L997.36 1647.01 L1004.85 1651.48 L1012.34 1655.54 L1019.83 1659.22 L1027.32 1662.54 L1034.81 1665.52 L1042.3 1668.19 L1049.79 1670.57 L1057.28 1672.68 L1064.77 1674.55 L1072.26 1676.19 L1079.75 1677.63 L1087.24 1678.89 L1094.73 1679.99 L1102.22 1680.94 L1109.71 1681.76 L1117.2 1682.46 L1124.69 1683.07" fill="none" stroke="#000" stroke-width="6" stroke-linejoin="round"/>
<text x="745.24" y="1766" font-family="'Liberation Serif','DejaVu Serif',serif" font-size="33.66" font-weight="bold" fill="#000" textLength="178.66" lengthAdjust="spacingAndGlyphs">TC (W/m.K)</text>
<text x="-1544.03" y="414" font-family="'Liberation Serif','DejaVu Serif',serif" font-size="33.66" font-weight="bold" fill="#111" textLength="148.89" lengthAdjust="spacingAndGlyphs" transform="rotate(-90)">Frequency</text>
</g>
<g>
<rect x="1348.5" y="1244.5" width="166" height="494" fill="#fff" stroke="#1e1e1e" stroke-width="1"/>
<path d="M1415.53 1285.31 L1415.76 1286.31 L1416.07 1287.31 L1416.46 1288.31 L1416.9 1289.31 L1417.4 1290.31 L1417.93 1291.31 L1418.53 1292.31 L1419.29 1293.31 L1420.16 1294.31 L1421.09 1295.31 L1422 1296.31 L1422.86 1297.31 L1423.66 1298.31 L1424.5 1299.31 L1425.33 1300.31 L1426.1 1301.31 L1426.76 1302.31 L1427.27 1303.31 L1427.68 1304.31 L1428.07 1305.31 L1428.44 1306.31 L1428.77 1307.31 L1429.05 1308.31 L1429.26 1309.31 L1429.39 1310.31 L1429.43 1311.31 L1429.4 1312.31 L1429.34 1313.31 L1429.25 1314.31 L1429.13 1315.31 L1428.97 1316.31 L1428.8 1317.31 L1428.6 1318.31 L1428.36 1319.31 L1427.88 1320.31 L1427.15 1321.31 L1426.27 1322.31 L1425.33 1323.31 L1424.41 1324.31 L1423.59 1325.31 L1422.74 1326.31 L1421.86 1327.31 L1420.98 1328.31 L1420.14 1329.31 L1419.36 1330.31 L1418.64 1331.31 L1417.88 1332.31 L1417.13 1333.31 L1416.45 1334.31 L1415.91 1335.31 L1415.58 1336.31 L1415.45 1337.31 L1415.34 1338.31 L1415.26 1339.31 L1415.19 1340.31 L1415.15 1341.31 L1415.13 1342.31 L1415.16 1343.31 L1415.27 1344.31 L1415.42 1345.31 L1415.61 1346.31 L1415.79 1347.31 L1415.95 1348.31 L1416.07 1349.31 L1416.11 1350.31 L1416.07 1351.31 L1415.97 1352.31 L1415.81 1353.31 L1415.62 1354.31 L1415.41 1355.31 L1415.2 1356.31 L1415.02 1357.31 L1414.87 1358.31 L1414.77 1359.31 L1414.74 1360.31 L1414.82 1361.31 L1415 1362.31 L1415.24 1363.31 L1415.55 1364.31 L1415.88 1365.31 L1416.24 1366.31 L1416.75 1367.31 L1417.42 1368.31 L1418.17 1369.31 L1418.94 1370.31 L1419.67 1371.31 L1420.32 1372.31 L1421.04 1373.31 L1421.79 1374.31 L1422.48 1375.31 L1423.03 1376.31 L1423.33 1377.31 L1423.3 1378.31 L1422.97 1379.31 L1422.41 1380.31 L1421.71 1381.31 L1420.95 1382.31 L1420.23 1383.31 L1419.55 1384.31 L1418.78 1385.31 L1417.94 1386.31 L1417.08 1387.31 L1416.23 1388.31 L1415.45 1389.31 L1414.76 1390.31 L1414.22 1391.31 L1413.81 1392.31 L1413.46 1393.31 L1413.17 1394.31 L1412.91 1395.31 L1412.66 1396.31 L1412.42 1397.31 L1412.17 1398.31 L1411.89 1399.31 L1411.57 1400.31 L1411.19 1401.31 L1410.71 1402.31 L1410.13 1403.31 L1409.49 1404.31 L1408.8 1405.31 L1408.1 1406.31 L1407.41 1407.31 L1406.77 1408.31 L1406.19 1409.31 L1405.57 1410.31 L1404.91 1411.31 L1404.25 1412.31 L1403.63 1413.31 L1403.09 1414.31 L1402.68 1415.31 L1402.45 1416.31 L1402.42 1417.31 L1402.55 1418.31 L1402.81 1419.31 L1403.17 1420.31 L1403.61 1421.31 L1404.11 1422.31 L1404.75 1423.31 L1405.92 1424.31 L1407.5 1425.31 L1409.29 1426.31 L1411.09 1427.31 L1412.7 1428.31 L1414.05 1429.31 L1415.4 1430.31 L1416.71 1431.31 L1417.94 1432.31 L1419.01 1433.31 L1419.88 1434.31 L1420.58 1435.31 L1421.24 1436.31 L1421.75 1437.31 L1421.98 1438.31 L1421.83 1439.31 L1421.29 1440.31 L1420.45 1441.31 L1419.42 1442.31 L1418.27 1443.31 L1417.1 1444.31 L1415.71 1445.31 L1413.91 1446.31 L1411.81 1447.31 L1409.55 1448.31 L1407.24 1449.31 L1404.99 1450.31 L1402.93 1451.31 L1401.17 1452.31 L1399.51 1453.31 L1397.84 1454.31 L1396.21 1455.31 L1394.68 1456.31 L1393.29 1457.31 L1392.09 1458.31 L1391.14 1459.31 L1390.46 1460.31 L1389.87 1461.31 L1389.33 1462.31 L1388.87 1463.31 L1388.53 1464.31 L1388.34 1465.31 L1388.34 1466.31 L1388.59 1467.31 L1389.06 1468.31 L1389.69 1469.31 L1390.45 1470.31 L1391.28 1471.31 L1392.23 1472.31 L1393.67 1473.31 L1395.53 1474.31 L1397.66 1475.31 L1399.91 1476.31 L1402.14 1477.31 L1404.19 1478.31 L1405.94 1479.31 L1407.38 1480.31 L1408.76 1481.31 L1410.06 1482.31 L1411.24 1483.31 L1412.27 1484.31 L1413.09 1485.31 L1413.77 1486.31 L1414.42 1487.31 L1414.98 1488.31 L1415.37 1489.31 L1415.53 1490.31 L1415.16 1491.31 L1414.16 1492.31 L1412.69 1493.31 L1410.95 1494.31 L1409.11 1495.31 L1406.8 1496.31 L1403.8 1497.31 L1400.31 1498.31 L1396.53 1499.31 L1392.67 1500.31 L1388.9 1501.31 L1384.45 1502.31 L1379.73 1503.31 L1375.76 1504.31 L1373.46 1505.31 L1371.8 1506.31 L1370.3 1507.31 L1369 1508.31 L1367.97 1509.31 L1367.22 1510.31 L1366.82 1511.31 L1366.84 1512.31 L1367.44 1513.31 L1368.51 1514.31 L1369.88 1515.31 L1371.39 1516.31 L1373.02 1517.31 L1375.25 1518.31 L1377.98 1519.31 L1381.04 1520.31 L1384.25 1521.31 L1387.43 1522.31 L1390.4 1523.31 L1392.99 1524.31 L1395.25 1525.31 L1397.64 1526.31 L1400.06 1527.31 L1402.37 1528.31 L1404.43 1529.31 L1406.09 1530.31 L1407.22 1531.31 L1407.69 1532.31 L1407.38 1533.31 L1406.37 1534.31 L1404.8 1535.31 L1402.81 1536.31 L1400.55 1537.31 L1398.14 1538.31 L1395.73 1539.31 L1393.45 1540.31 L1391.08 1541.31 L1388.42 1542.31 L1385.57 1543.31 L1382.61 1544.31 L1379.63 1545.31 L1376.73 1546.31 L1373.99 1547.31 L1371.49 1548.31 L1368.99 1549.31 L1366.48 1550.31 L1364.09 1551.31 L1361.95 1552.31 L1360.19 1553.31 L1358.91 1554.31 L1357.76 1555.31 L1356.75 1556.31 L1356.05 1557.31 L1355.8 1558.31 L1356.1 1559.31 L1356.85 1560.31 L1357.94 1561.31 L1359.25 1562.31 L1360.67 1563.31 L1362.22 1564.31 L1364.43 1565.31 L1367.17 1566.31 L1370.24 1567.31 L1373.41 1568.31 L1376.46 1569.31 L1379.19 1570.31 L1381.38 1571.31 L1383.06 1572.31 L1384.74 1573.31 L1386.34 1574.31 L1387.77 1575.31 L1388.93 1576.31 L1389.73 1577.31 L1390.06 1578.31 L1389.89 1579.31 L1389.31 1580.31 L1388.42 1581.31 L1387.32 1582.31 L1386.09 1583.31 L1384.82 1584.31 L1383.63 1585.31 L1382.59 1586.31 L1381.8 1587.31 L1381.13 1588.31 L1380.44 1589.31 L1379.76 1590.31 L1379.1 1591.31 L1378.5 1592.31 L1377.96 1593.31 L1377.52 1594.31 L1377.19 1595.31 L1376.99 1596.31 L1376.96 1597.31 L1377.15 1598.31 L1377.54 1599.31 L1378.12 1600.31 L1378.84 1601.31 L1379.66 1602.31 L1380.56 1603.31 L1381.5 1604.31 L1382.44 1605.31 L1383.36 1606.31 L1384.25 1607.31 L1385.35 1608.31 L1386.64 1609.31 L1388.05 1610.31 L1389.52 1611.31 L1390.96 1612.31 L1392.33 1613.31 L1393.53 1614.31 L1394.51 1615.31 L1395.21 1616.31 L1395.53 1617.31 L1395.49 1618.31 L1395.2 1619.31 L1394.73 1620.31 L1394.13 1621.31 L1393.44 1622.31 L1392.7 1623.31 L1391.97 1624.31 L1391.29 1625.31 L1390.71 1626.31 L1390.17 1627.31 L1389.59 1628.31 L1388.98 1629.31 L1388.37 1630.31 L1387.8 1631.31 L1387.28 1632.31 L1386.85 1633.31 L1386.54 1634.31 L1386.37 1635.31 L1386.38 1636.31 L1386.61 1637.31 L1387.03 1638.31 L1387.6 1639.31 L1388.29 1640.31 L1389.06 1641.31 L1389.88 1642.31 L1390.69 1643.31 L1391.48 1644.31 L1392.19 1645.31 L1392.81 1646.31 L1393.47 1647.31 L1394.19 1648.31 L1394.93 1649.31 L1395.65 1650.31 L1396.3 1651.31 L1396.85 1652.31 L1397.26 1653.31 L1397.48 1654.31 L1397.49 1655.31 L1397.32 1656.31 L1397 1657.31 L1396.59 1658.31 L1396.09 1659.31 L1395.56 1660.31 L1395.01 1661.31 L1394.48 1662.31 L1394 1663.31 L1393.61 1664.31 L1393.34 1665.31 L1393.21 1666.31 L1393.29 1667.31 L1393.66 1668.31 L1394.25 1669.31 L1395.01 1670.31 L1395.89 1671.31 L1396.83 1672.31 L1397.77 1673.31 L1398.66 1674.31 L1399.43 1675.31 L1400.19 1676.31 L1401.05 1677.31 L1401.94 1678.31 L1402.82 1679.31 L1403.6 1680.31 L1404.22 1681.31 L1404.63 1682.31 L1404.75 1683.31 L1404.59 1684.31 L1404.23 1685.31 L1403.73 1686.31 L1403.18 1687.31 L1402.63 1688.31 L1402.18 1689.31 L1401.89 1690.31 L1401.82 1691.31 L1401.88 1692.31 L1402.01 1693.31 L1402.23 1694.31 L1402.52 1695.31 L1402.91 1696.31 L1403.38 1697.3 L1458.22 1697.3 L1458.69 1696.31 L1459.08 1695.31 L1459.37 1694.31 L1459.59 1693.31 L1459.72 1692.31 L1459.78 1691.31 L1459.71 1690.31 L1459.42 1689.31 L1458.97 1688.31 L1458.42 1687.31 L1457.87 1686.31 L1457.37 1685.31 L1457.01 1684.31 L1456.85 1683.31 L1456.97 1682.31 L1457.38 1681.31 L1458 1680.31 L1458.78 1679.31 L1459.66 1678.31 L1460.55 1677.31 L1461.41 1676.31 L1462.17 1675.31 L1462.94 1674.31 L1463.83 1673.31 L1464.77 1672.31 L1465.71 1671.31 L1466.59 1670.31 L1467.35 1669.31 L1467.94 1668.31 L1468.31 1667.31 L1468.39 1666.31 L1468.26 1665.31 L1467.99 1664.31 L1467.6 1663.31 L1467.12 1662.31 L1466.59 1661.31 L1466.04 1660.31 L1465.51 1659.31 L1465.01 1658.31 L1464.6 1657.31 L1464.28 1656.31 L1464.11 1655.31 L1464.12 1654.31 L1464.34 1653.31 L1464.75 1652.31 L1465.3 1651.31 L1465.95 1650.31 L1466.67 1649.31 L1467.41 1648.31 L1468.13 1647.31 L1468.79 1646.31 L1469.41 1645.31 L1470.12 1644.31 L1470.91 1643.31 L1471.72 1642.31 L1472.54 1641.31 L1473.31 1640.31 L1474 1639.31 L1474.57 1638.31 L1474.99 1637.31 L1475.22 1636.31 L1475.23 1635.31 L1475.06 1634.31 L1474.75 1633.31 L1474.32 1632.31 L1473.8 1631.31 L1473.23 1630.31 L1472.62 1629.31 L1472.01 1628.31 L1471.43 1627.31 L1470.89 1626.31 L1470.31 1625.31 L1469.63 1624.31 L1468.9 1623.31 L1468.16 1622.31 L1467.47 1621.31 L1466.87 1620.31 L1466.4 1619.31 L1466.11 1618.31 L1466.07 1617.31 L1466.39 1616.31 L1467.09 1615.31 L1468.07 1614.31 L1469.27 1613.31 L1470.64 1612.31 L1472.08 1611.31 L1473.55 1610.31 L1474.96 1609.31 L1476.25 1608.31 L1477.35 1607.31 L1478.24 1606.31 L1479.16 1605.31 L1480.1 1604.31 L1481.04 1603.31 L1481.94 1602.31 L1482.76 1601.31 L1483.48 1600.31 L1484.06 1599.31 L1484.45 1598.31 L1484.64 1597.31 L1484.61 1596.31 L1484.41 1595.31 L1484.08 1594.31 L1483.64 1593.31 L1483.1 1592.31 L1482.5 1591.31 L1481.84 1590.31 L1481.16 1589.31 L1480.47 1588.31 L1479.8 1587.31 L1479.01 1586.31 L1477.97 1585.31 L1476.78 1584.31 L1475.51 1583.31 L1474.28 1582.31 L1473.18 1581.31 L1472.29 1580.31 L1471.71 1579.31 L1471.54 1578.31 L1471.87 1577.31 L1472.67 1576.31 L1473.83 1575.31 L1475.26 1574.31 L1476.86 1573.31 L1478.54 1572.31 L1480.22 1571.31 L1482.41 1570.31 L1485.14 1569.31 L1488.19 1568.31 L1491.36 1567.31 L1494.43 1566.31 L1497.17 1565.31 L1499.38 1564.31 L1500.93 1563.31 L1502.35 1562.31 L1503.66 1561.31 L1504.75 1560.31 L1505.5 1559.31 L1505.8 1558.31 L1505.55 1557.31 L1504.85 1556.31 L1503.84 1555.31 L1502.69 1554.31 L1501.41 1553.31 L1499.65 1552.31 L1497.51 1551.31 L1495.12 1550.31 L1492.61 1549.31 L1490.11 1548.31 L1487.61 1547.31 L1484.87 1546.31 L1481.97 1545.31 L1478.99 1544.31 L1476.03 1543.31 L1473.18 1542.31 L1470.52 1541.31 L1468.15 1540.31 L1465.87 1539.31 L1463.46 1538.31 L1461.05 1537.31 L1458.79 1536.31 L1456.8 1535.31 L1455.23 1534.31 L1454.22 1533.31 L1453.91 1532.31 L1454.38 1531.31 L1455.51 1530.31 L1457.17 1529.31 L1459.23 1528.31 L1461.54 1527.31 L1463.96 1526.31 L1466.35 1525.31 L1468.61 1524.31 L1471.2 1523.31 L1474.17 1522.31 L1477.35 1521.31 L1480.56 1520.31 L1483.62 1519.31 L1486.35 1518.31 L1488.58 1517.31 L1490.21 1516.31 L1491.72 1515.31 L1493.09 1514.31 L1494.16 1513.31 L1494.76 1512.31 L1494.78 1511.31 L1494.38 1510.31 L1493.63 1509.31 L1492.6 1508.31 L1491.3 1507.31 L1489.8 1506.31 L1488.14 1505.31 L1485.84 1504.31 L1481.87 1503.31 L1477.15 1502.31 L1472.7 1501.31 L1468.93 1500.31 L1465.07 1499.31 L1461.29 1498.31 L1457.8 1497.31 L1454.8 1496.31 L1452.49 1495.31 L1450.65 1494.31 L1448.91 1493.31 L1447.44 1492.31 L1446.44 1491.31 L1446.07 1490.31 L1446.23 1489.31 L1446.62 1488.31 L1447.18 1487.31 L1447.83 1486.31 L1448.51 1485.31 L1449.33 1484.31 L1450.36 1483.31 L1451.54 1482.31 L1452.84 1481.31 L1454.22 1480.31 L1455.66 1479.31 L1457.41 1478.31 L1459.46 1477.31 L1461.69 1476.31 L1463.94 1475.31 L1466.07 1474.31 L1467.93 1473.31 L1469.37 1472.31 L1470.32 1471.31 L1471.15 1470.31 L1471.91 1469.31 L1472.54 1468.31 L1473.01 1467.31 L1473.26 1466.31 L1473.26 1465.31 L1473.07 1464.31 L1472.73 1463.31 L1472.27 1462.31 L1471.73 1461.31 L1471.14 1460.31 L1470.46 1459.31 L1469.51 1458.31 L1468.31 1457.31 L1466.92 1456.31 L1465.39 1455.31 L1463.76 1454.31 L1462.09 1453.31 L1460.43 1452.31 L1458.67 1451.31 L1456.61 1450.31 L1454.36 1449.31 L1452.05 1448.31 L1449.79 1447.31 L1447.69 1446.31 L1445.89 1445.31 L1444.5 1444.31 L1443.33 1443.31 L1442.18 1442.31 L1441.15 1441.31 L1440.31 1440.31 L1439.77 1439.31 L1439.62 1438.31 L1439.85 1437.31 L1440.36 1436.31 L1441.02 1435.31 L1441.72 1434.31 L1442.59 1433.31 L1443.66 1432.31 L1444.89 1431.31 L1446.2 1430.31 L1447.55 1429.31 L1448.9 1428.31 L1450.51 1427.31 L1452.31 1426.31 L1454.1 1425.31 L1455.68 1424.31 L1456.85 1423.31 L1457.49 1422.31 L1457.99 1421.31 L1458.43 1420.31 L1458.79 1419.31 L1459.05 1418.31 L1459.18 1417.31 L1459.15 1416.31 L1458.92 1415.31 L1458.51 1414.31 L1457.97 1413.31 L1457.35 1412.31 L1456.69 1411.31 L1456.03 1410.31 L1455.41 1409.31 L1454.83 1408.31 L1454.19 1407.31 L1453.5 1406.31 L1452.8 1405.31 L1452.11 1404.31 L1451.47 1403.31 L1450.89 1402.31 L1450.41 1401.31 L1450.03 1400.31 L1449.71 1399.31 L1449.43 1398.31 L1449.18 1397.31 L1448.94 1396.31 L1448.69 1395.31 L1448.43 1394.31 L1448.14 1393.31 L1447.79 1392.31 L1447.38 1391.31 L1446.84 1390.31 L1446.15 1389.31 L1445.37 1388.31 L1444.52 1387.31 L1443.66 1386.31 L1442.82 1385.31 L1442.05 1384.31 L1441.37 1383.31 L1440.65 1382.31 L1439.89 1381.31 L1439.19 1380.31 L1438.63 1379.31 L1438.3 1378.31 L1438.27 1377.31 L1438.57 1376.31 L1439.12 1375.31 L1439.81 1374.31 L1440.56 1373.31 L1441.28 1372.31 L1441.93 1371.31 L1442.66 1370.31 L1443.43 1369.31 L1444.18 1368.31 L1444.85 1367.31 L1445.36 1366.31 L1445.72 1365.31 L1446.05 1364.31 L1446.36 1363.31 L1446.6 1362.31 L1446.78 1361.31 L1446.86 1360.31 L1446.83 1359.31 L1446.73 1358.31 L1446.58 1357.31 L1446.4 1356.31 L1446.19 1355.31 L1445.98 1354.31 L1445.79 1353.31 L1445.63 1352.31 L1445.53 1351.31 L1445.49 1350.31 L1445.53 1349.31 L1445.65 1348.31 L1445.81 1347.31 L1445.99 1346.31 L1446.18 1345.31 L1446.33 1344.31 L1446.44 1343.31 L1446.47 1342.31 L1446.45 1341.31 L1446.41 1340.31 L1446.34 1339.31 L1446.26 1338.31 L1446.15 1337.31 L1446.02 1336.31 L1445.69 1335.31 L1445.15 1334.31 L1444.47 1333.31 L1443.72 1332.31 L1442.96 1331.31 L1442.24 1330.31 L1441.46 1329.31 L1440.62 1328.31 L1439.74 1327.31 L1438.86 1326.31 L1438.01 1325.31 L1437.19 1324.31 L1436.27 1323.31 L1435.33 1322.31 L1434.45 1321.31 L1433.72 1320.31 L1433.24 1319.31 L1433 1318.31 L1432.8 1317.31 L1432.63 1316.31 L1432.47 1315.31 L1432.35 1314.31 L1432.26 1313.31 L1432.2 1312.31 L1432.17 1311.31 L1432.21 1310.31 L1432.34 1309.31 L1432.55 1308.31 L1432.83 1307.31 L1433.16 1306.31 L1433.53 1305.31 L1433.92 1304.31 L1434.33 1303.31 L1434.84 1302.31 L1435.5 1301.31 L1436.27 1300.31 L1437.1 1299.31 L1437.94 1298.31 L1438.74 1297.31 L1439.6 1296.31 L1440.51 1295.31 L1441.44 1294.31 L1442.31 1293.31 L1443.07 1292.31 L1443.67 1291.31 L1444.2 1290.31 L1444.7 1289.31 L1445.14 1288.31 L1445.53 1287.31 L1445.84 1286.31 L1446.07 1285.31 Z" fill="#00ff00"/>
<line x1="1348.5" y1="1252.5" x2="1353.5" y2="1252.5" stroke="#1e1e1e" stroke-width="1"/>
<line x1="1509.5" y1="1252.5" x2="1514.5" y2="1252.5" stroke="#1e1e1e" stroke-width="1"/>
<text x="1291.37" y="1260.85" font-family="'Liberation Serif','DejaVu Serif',serif" font-size="26.01" font-weight="bold" fill="#1e1e1e" textLength="46.43" lengthAdjust="spacingAndGlyphs">0.16</text>
<line x1="1348.5" y1="1337.5" x2="1353.5" y2="1337.5" stroke="#1e1e1e" stroke-width="1"/>
<line x1="1509.5" y1="1337.5" x2="1514.5" y2="1337.5" stroke="#1e1e1e" stroke-width="1"/>
<text x="1291.57" y="1346.15" font-family="'Liberation Serif','DejaVu Serif',serif" font-size="26.01" font-weight="bold" fill="#1e1e1e" textLength="46.43" lengthAdjust="spacingAndGlyphs">0.15</text>
<line x1="1348.5" y1="1423.5" x2="1353.5" y2="1423.5" stroke="#1e1e1e" stroke-width="1"/>
<line x1="1509.5" y1="1423.5" x2="1514.5" y2="1423.5" stroke="#1e1e1e" stroke-width="1"/>
<text x="1291.04" y="1431.45" font-family="'Liberation Serif','DejaVu Serif',serif" font-size="26.01" font-weight="bold" fill="#1e1e1e" textLength="46.43" lengthAdjust="spacingAndGlyphs">0.14</text>
<line x1="1348.5" y1="1508.5" x2="1353.5" y2="1508.5" stroke="#1e1e1e" stroke-width="1"/>
<line x1="1509.5" y1="1508.5" x2="1514.5" y2="1508.5" stroke="#1e1e1e" stroke-width="1"/>
<text x="1291.5" y="1516.75" font-family="'Liberation Serif','DejaVu Serif',serif" font-size="26.01" font-weight="bold" fill="#1e1e1e" textLength="46.43" lengthAdjust="spacingAndGlyphs">0.13</text>
<line x1="1348.5" y1="1593.5" x2="1353.5" y2="1593.5" stroke="#1e1e1e" stroke-width="1"/>
<line x1="1509.5" y1="1593.5" x2="1514.5" y2="1593.5" stroke="#1e1e1e" stroke-width="1"/>
<text x="1291.7" y="1602.05" font-family="'Liberation Serif','DejaVu Serif',serif" font-size="26.01" font-weight="bold" fill="#1e1e1e" textLength="46.43" lengthAdjust="spacingAndGlyphs">0.12</text>
<line x1="1348.5" y1="1678.5" x2="1353.5" y2="1678.5" stroke="#1e1e1e" stroke-width="1"/>
<line x1="1509.5" y1="1678.5" x2="1514.5" y2="1678.5" stroke="#1e1e1e" stroke-width="1"/>
<text x="1293.42" y="1687.35" font-family="'Liberation Serif','DejaVu Serif',serif" font-size="26.01" font-weight="bold" fill="#1e1e1e" textLength="44.96" lengthAdjust="spacingAndGlyphs">0.11</text>
<line x1="1430.5" y1="1244.5" x2="1430.5" y2="1249.5" stroke="#1e1e1e" stroke-width="1"/>
<line x1="1430.5" y1="1733.5" x2="1430.5" y2="1738.5" stroke="#1e1e1e" stroke-width="1"/>
<text x="1370.04" y="1773" font-family="'Liberation Serif','DejaVu Serif',serif" font-size="26.01" font-weight="bold" fill="#1e1e1e" textLength="120.62" lengthAdjust="spacingAndGlyphs">Violin Plot</text>
<text x="-1569.78" y="1279" font-family="'Liberation Serif','DejaVu Serif',serif" font-size="29.06" font-weight="bold" fill="#1e1e1e" textLength="157.4" lengthAdjust="spacingAndGlyphs" transform="rotate(-90)">TC (W/m.K)</text>
</g>
<rect x="5" y="1794" width="77" height="562" fill="#ff00ff"/>
<rect x="84" y="1794" width="1443" height="562" fill="#fff"/>
<text y="61.2" transform="rotate(-90)" font-family="'Liberation Sans','DejaVu Sans',sans-serif" font-size="66.6" fill="#000" stroke="#000" stroke-width="2" stroke-linejoin="round"><tspan x="-2273.38" y="59.8" font-size="61.4" textLength="18.52" lengthAdjust="spacingAndGlyphs">(</tspan><tspan x="-2252.69" y="61.2" font-size="64.6" textLength="37.82" lengthAdjust="spacingAndGlyphs">d</tspan><tspan x="-2211.72" y="59.8" font-size="61.4" textLength="18.52" lengthAdjust="spacingAndGlyphs">)</tspan> <tspan x="-2169.88" y="61.2" textLength="60.4" lengthAdjust="spacingAndGlyphs">M</tspan><tspan x="-2106.22" y="61.2" textLength="41.32" lengthAdjust="spacingAndGlyphs">R</tspan> <tspan x="-2042.37" y="61.4" font-size="54.8" textLength="35.88" lengthAdjust="spacingAndGlyphs">=</tspan> <tspan x="-1982.28" y="61.2" textLength="33.13" lengthAdjust="spacingAndGlyphs">2</tspan><tspan x="-1947.56" y="61.2" textLength="37.04" lengthAdjust="spacingAndGlyphs">1</tspan><tspan x="-1910.86" y="61.2" textLength="37.04" lengthAdjust="spacingAndGlyphs">1</tspan></text>
<g>
<rect x="179.5" y="1815.5" width="167" height="493" fill="#fff" stroke="#1e1e1e" stroke-width="1"/>
<text x="129.74" y="1822.95" font-family="'Liberation Serif','DejaVu Serif',serif" font-size="22.31" font-weight="bold" fill="#1e1e1e" textLength="40.21" lengthAdjust="spacingAndGlyphs">0.18</text>
<line x1="179.5" y1="1877.5" x2="184.5" y2="1877.5" stroke="#1e1e1e" stroke-width="1"/>
<line x1="341.5" y1="1877.5" x2="346.5" y2="1877.5" stroke="#1e1e1e" stroke-width="1"/>
<text x="129.56" y="1884.53" font-family="'Liberation Serif','DejaVu Serif',serif" font-size="22.31" font-weight="bold" fill="#1e1e1e" textLength="40.21" lengthAdjust="spacingAndGlyphs">0.17</text>
<line x1="179.5" y1="1938.5" x2="184.5" y2="1938.5" stroke="#1e1e1e" stroke-width="1"/>
<line x1="341.5" y1="1938.5" x2="346.5" y2="1938.5" stroke="#1e1e1e" stroke-width="1"/>
<text x="129.68" y="1946.1" font-family="'Liberation Serif','DejaVu Serif',serif" font-size="22.31" font-weight="bold" fill="#1e1e1e" textLength="40.21" lengthAdjust="spacingAndGlyphs">0.16</text>
<line x1="179.5" y1="2000.5" x2="184.5" y2="2000.5" stroke="#1e1e1e" stroke-width="1"/>
<line x1="341.5" y1="2000.5" x2="346.5" y2="2000.5" stroke="#1e1e1e" stroke-width="1"/>
<text x="129.85" y="2007.68" font-family="'Liberation Serif','DejaVu Serif',serif" font-size="22.31" font-weight="bold" fill="#1e1e1e" textLength="40.21" lengthAdjust="spacingAndGlyphs">0.15</text>
<line x1="179.5" y1="2062.5" x2="184.5" y2="2062.5" stroke="#1e1e1e" stroke-width="1"/>
<line x1="341.5" y1="2062.5" x2="346.5" y2="2062.5" stroke="#1e1e1e" stroke-width="1"/>
<text x="129.39" y="2069.25" font-family="'Liberation Serif','DejaVu Serif',serif" font-size="22.31" font-weight="bold" fill="#1e1e1e" textLength="40.21" lengthAdjust="spacingAndGlyphs">0.14</text>
<line x1="179.5" y1="2123.5" x2="184.5" y2="2123.5" stroke="#1e1e1e" stroke-width="1"/>
<line x1="341.5" y1="2123.5" x2="346.5" y2="2123.5" stroke="#1e1e1e" stroke-width="1"/>
<text x="129.79" y="2130.83" font-family="'Liberation Serif','DejaVu Serif',serif" font-size="22.31" font-weight="bold" fill="#1e1e1e" textLength="40.21" lengthAdjust="spacingAndGlyphs">0.13</text>
<line x1="179.5" y1="2185.5" x2="184.5" y2="2185.5" stroke="#1e1e1e" stroke-width="1"/>
<line x1="341.5" y1="2185.5" x2="346.5" y2="2185.5" stroke="#1e1e1e" stroke-width="1"/>
<text x="129.97" y="2192.4" font-family="'Liberation Serif','DejaVu Serif',serif" font-size="22.31" font-weight="bold" fill="#1e1e1e" textLength="40.21" lengthAdjust="spacingAndGlyphs">0.12</text>
<line x1="179.5" y1="2246.5" x2="184.5" y2="2246.5" stroke="#1e1e1e" stroke-width="1"/>
<line x1="341.5" y1="2246.5" x2="346.5" y2="2246.5" stroke="#1e1e1e" stroke-width="1"/>
<text x="131.46" y="2253.98" font-family="'Liberation Serif','DejaVu Serif',serif" font-size="22.31" font-weight="bold" fill="#1e1e1e" textLength="38.94" lengthAdjust="spacingAndGlyphs">0.11</text>
<text x="141.68" y="2315.55" font-family="'Liberation Serif','DejaVu Serif',serif" font-size="22.31" font-weight="bold" fill="#1e1e1e" textLength="28.72" lengthAdjust="spacingAndGlyphs">0.1</text>
<line x1="262.5" y1="1815.5" x2="262.5" y2="1820.5" stroke="#1e1e1e" stroke-width="1"/>
<line x1="262.5" y1="2303.5" x2="262.5" y2="2308.5" stroke="#1e1e1e" stroke-width="1"/>
<line x1="262.5" y1="1902.5" x2="262.5" y2="2050.5" stroke="#777" stroke-width="1"/>
<line x1="262.5" y1="2174.5" x2="262.5" y2="2243.5" stroke="#777" stroke-width="1"/>
<line x1="262.5" y1="1902.5" x2="262.5" y2="2050.5" stroke="#111" stroke-width="1.5" stroke-dasharray="9 2"/>
<line x1="262.5" y1="2174.5" x2="262.5" y2="2243.5" stroke="#111" stroke-width="1.5" stroke-dasharray="9 2"/>
<line x1="241.9" y1="1902.5" x2="283.5" y2="1902.5" stroke="#111" stroke-width="1.2"/>
<line x1="241.9" y1="2243.5" x2="283.5" y2="2243.5" stroke="#111" stroke-width="1.2"/>
<rect x="221.5" y="2050.5" width="83" height="124" fill="#ff00ff" stroke="#111" stroke-width="1.1"/>
<line x1="221.5" y1="2119.5" x2="304.5" y2="2119.5" stroke="#111" stroke-width="1.2"/>
<text x="220.57" y="2337.4" font-family="'Liberation Serif','DejaVu Serif',serif" font-size="22.31" font-weight="bold" fill="#1e1e1e" textLength="83.61" lengthAdjust="spacingAndGlyphs">Box Plot</text>
<text x="-2130.38" y="119" font-family="'Liberation Serif','DejaVu Serif',serif" font-size="25.38" font-weight="bold" fill="#1e1e1e" textLength="137.49" lengthAdjust="spacingAndGlyphs" transform="rotate(-90)">TC (W/m.K)</text>
</g>
<g>
<rect x="455.2" y="1819" width="752.3" height="443.1" fill="#fff"/>
<rect x="550.35" y="2096.64" width="51.27" height="165.46" fill="#ff00ff"/>
<rect x="602.92" y="1985.86" width="51.27" height="276.24" fill="#ff00ff"/>
<rect x="655.49" y="1875.09" width="51.27" height="387.01" fill="#ff00ff"/>
<rect x="708.06" y="1985.86" width="51.27" height="276.24" fill="#ff00ff"/>
<rect x="760.63" y="1930.48" width="51.27" height="331.62" fill="#ff00ff"/>
<rect x="813.2" y="2041.25" width="51.27" height="220.85" fill="#ff00ff"/>
<rect x="865.77" y="2207.41" width="51.27" height="54.69" fill="#ff00ff"/>
<rect x="918.34" y="2152.02" width="51.27" height="110.07" fill="#ff00ff"/>
<rect x="970.91" y="2152.02" width="51.27" height="110.07" fill="#ff00ff"/>
<rect x="1023.48" y="2207.41" width="51.27" height="54.69" fill="#ff00ff"/>
<rect x="455.2" y="1819" width="752.3" height="443.1" fill="none" stroke="#1a1a1a" stroke-width="1.4"/>
<line x1="454.5" y1="1819" x2="1208.2" y2="1819" stroke="#000" stroke-width="1.9"/>
<text x="435.57" y="2304" font-family="'Liberation Serif','DejaVu Serif',serif" font-size="30.5" font-weight="bold" fill="#000" textLength="38.12" lengthAdjust="spacingAndGlyphs">0.1</text>
<line x1="549.24" y1="2262.1" x2="549.24" y2="2254.1" stroke="#000" stroke-width="1.2"/>
<line x1="549.24" y1="1819" x2="549.24" y2="1827" stroke="#000" stroke-width="1.2"/>
<text x="522.82" y="2304" font-family="'Liberation Serif','DejaVu Serif',serif" font-size="30.5" font-weight="bold" fill="#000" textLength="51.69" lengthAdjust="spacingAndGlyphs">0.11</text>
<line x1="643.28" y1="2262.1" x2="643.28" y2="2254.1" stroke="#000" stroke-width="1.2"/>
<line x1="643.28" y1="1819" x2="643.28" y2="1827" stroke="#000" stroke-width="1.2"/>
<text x="615.86" y="2304" font-family="'Liberation Serif','DejaVu Serif',serif" font-size="30.5" font-weight="bold" fill="#000" textLength="53.38" lengthAdjust="spacingAndGlyphs">0.12</text>
<line x1="737.31" y1="2262.1" x2="737.31" y2="2254.1" stroke="#000" stroke-width="1.2"/>
<line x1="737.31" y1="1819" x2="737.31" y2="1827" stroke="#000" stroke-width="1.2"/>
<text x="709.79" y="2304" font-family="'Liberation Serif','DejaVu Serif',serif" font-size="30.5" font-weight="bold" fill="#000" textLength="53.38" lengthAdjust="spacingAndGlyphs">0.13</text>
<line x1="831.35" y1="2262.1" x2="831.35" y2="2254.1" stroke="#000" stroke-width="1.2"/>
<line x1="831.35" y1="1819" x2="831.35" y2="1827" stroke="#000" stroke-width="1.2"/>
<text x="803.56" y="2304" font-family="'Liberation Serif','DejaVu Serif',serif" font-size="30.5" font-weight="bold" fill="#000" textLength="53.38" lengthAdjust="spacingAndGlyphs">0.14</text>
<line x1="925.39" y1="2262.1" x2="925.39" y2="2254.1" stroke="#000" stroke-width="1.2"/>
<line x1="925.39" y1="1819" x2="925.39" y2="1827" stroke="#000" stroke-width="1.2"/>
<text x="897.9" y="2304" font-family="'Liberation Serif','DejaVu Serif',serif" font-size="30.5" font-weight="bold" fill="#000" textLength="53.38" lengthAdjust="spacingAndGlyphs">0.15</text>
<line x1="1019.42" y1="2262.1" x2="1019.42" y2="2254.1" stroke="#000" stroke-width="1.2"/>
<line x1="1019.42" y1="1819" x2="1019.42" y2="1827" stroke="#000" stroke-width="1.2"/>
<text x="991.82" y="2304" font-family="'Liberation Serif','DejaVu Serif',serif" font-size="30.5" font-weight="bold" fill="#000" textLength="53.38" lengthAdjust="spacingAndGlyphs">0.16</text>
<line x1="1113.46" y1="2262.1" x2="1113.46" y2="2254.1" stroke="#000" stroke-width="1.2"/>
<line x1="1113.46" y1="1819" x2="1113.46" y2="1827" stroke="#000" stroke-width="1.2"/>
<text x="1085.78" y="2304" font-family="'Liberation Serif','DejaVu Serif',serif" font-size="30.5" font-weight="bold" fill="#000" textLength="53.38" lengthAdjust="spacingAndGlyphs">0.17</text>
<text x="1179.94" y="2304" font-family="'Liberation Serif','DejaVu Serif',serif" font-size="30.5" font-weight="bold" fill="#000" textLength="53.38" lengthAdjust="spacingAndGlyphs">0.18</text>
<text x="426.89" y="2272.09" font-family="'Liberation Serif','DejaVu Serif',serif" font-size="30.5" font-weight="bold" fill="#000" textLength="15.25" lengthAdjust="spacingAndGlyphs">0</text>
<line x1="455.2" y1="2151.32" x2="463.2" y2="2151.32" stroke="#000" stroke-width="1.2"/>
<line x1="1199.5" y1="2151.32" x2="1207.5" y2="2151.32" stroke="#000" stroke-width="1.2"/>
<text x="427.05" y="2161.43" font-family="'Liberation Serif','DejaVu Serif',serif" font-size="30.5" font-weight="bold" fill="#000" textLength="15.25" lengthAdjust="spacingAndGlyphs">2</text>
<line x1="455.2" y1="2040.55" x2="463.2" y2="2040.55" stroke="#000" stroke-width="1.2"/>
<line x1="1199.5" y1="2040.55" x2="1207.5" y2="2040.55" stroke="#000" stroke-width="1.2"/>
<text x="426.28" y="2050.58" font-family="'Liberation Serif','DejaVu Serif',serif" font-size="30.5" font-weight="bold" fill="#000" textLength="15.25" lengthAdjust="spacingAndGlyphs">4</text>
<line x1="455.2" y1="1929.78" x2="463.2" y2="1929.78" stroke="#000" stroke-width="1.2"/>
<line x1="1199.5" y1="1929.78" x2="1207.5" y2="1929.78" stroke="#000" stroke-width="1.2"/>
<text x="426.67" y="1939.73" font-family="'Liberation Serif','DejaVu Serif',serif" font-size="30.5" font-weight="bold" fill="#000" textLength="15.25" lengthAdjust="spacingAndGlyphs">6</text>
<text x="426.74" y="1828.99" font-family="'Liberation Serif','DejaVu Serif',serif" font-size="30.5" font-weight="bold" fill="#000" textLength="15.25" lengthAdjust="spacingAndGlyphs">8</text>
<path d="M455.2 2242.35 L462.91 2239.37 L470.63 2236.02 L478.34 2232.3 L486.05 2228.16 L493.77 2223.59 L501.48 2218.57 L509.19 2213.06 L516.91 2207.06 L524.62 2200.55 L532.33 2193.51 L540.05 2185.95 L547.76 2177.86 L555.47 2169.25 L563.18 2160.13 L570.9 2150.51 L578.61 2140.43 L586.32 2129.92 L594.04 2119.03 L601.75 2107.79 L609.46 2096.27 L617.18 2084.53 L624.89 2072.66 L632.6 2060.72 L640.32 2048.8 L648.03 2036.99 L655.74 2025.38 L663.46 2014.08 L671.17 2003.18 L678.88 1992.77 L686.6 1982.96 L694.31 1973.84 L702.02 1965.5 L709.74 1958.01 L717.45 1951.47 L725.16 1945.93 L732.87 1941.46 L740.59 1938.1 L748.3 1935.89 L756.01 1934.85 L763.73 1934.99 L771.44 1936.31 L779.15 1938.8 L786.87 1942.44 L794.58 1947.17 L802.29 1952.96 L810.01 1959.74 L817.72 1967.43 L825.43 1975.97 L833.15 1985.27 L840.86 1995.23 L848.57 2005.76 L856.29 2016.77 L864 2028.16 L871.71 2039.82 L879.43 2051.66 L887.14 2063.6 L894.85 2075.53 L902.56 2087.38 L910.28 2099.07 L917.99 2110.52 L925.7 2121.69 L933.42 2132.5 L941.13 2142.9 L948.84 2152.87 L956.56 2162.37 L964.27 2171.37 L971.98 2179.86 L979.7 2187.82 L987.41 2195.26 L995.12 2202.16 L1002.84 2208.55 L1010.55 2214.43 L1018.26 2219.82 L1025.98 2224.73 L1033.69 2229.2 L1041.4 2233.23 L1049.12 2236.86 L1056.83 2240.12 L1064.54 2243.02 L1072.26 2245.6 L1079.97 2247.88 L1087.68 2249.89 L1095.39 2251.66 L1103.11 2253.2 L1110.82 2254.54 L1118.53 2255.71 L1126.25 2256.71 L1133.96 2257.57 L1141.67 2258.31" fill="none" stroke="#000" stroke-width="6" stroke-linejoin="round"/>
<text x="741.3" y="2343" font-family="'Liberation Serif','DejaVu Serif',serif" font-size="34" font-weight="bold" fill="#000" textLength="180.47" lengthAdjust="spacingAndGlyphs">TC (W/m.K)</text>
<text x="-2115.38" y="410" font-family="'Liberation Serif','DejaVu Serif',serif" font-size="34" font-weight="bold" fill="#111" textLength="150.39" lengthAdjust="spacingAndGlyphs" transform="rotate(-90)">Frequency</text>
</g>
<g>
<rect x="1352.5" y="1815.5" width="164" height="488" fill="#fff" stroke="#111" stroke-width="1.7"/>
<path d="M1417.27 1845.81 L1417.82 1846.81 L1418.41 1847.81 L1419.06 1848.81 L1419.75 1849.81 L1420.48 1850.81 L1421.27 1851.81 L1422.14 1852.81 L1423.05 1853.81 L1424 1854.81 L1424.95 1855.81 L1425.91 1856.81 L1427 1857.81 L1428.2 1858.81 L1429.38 1859.81 L1430.43 1860.81 L1431.23 1861.81 L1431.7 1862.81 L1432.06 1863.81 L1432.39 1864.81 L1432.69 1865.81 L1432.95 1866.81 L1433.17 1867.81 L1433.34 1868.81 L1433.45 1869.81 L1433.51 1870.81 L1433.51 1871.81 L1433.47 1872.81 L1433.39 1873.81 L1433.27 1874.81 L1433.12 1875.81 L1432.94 1876.81 L1432.73 1877.81 L1432.49 1878.81 L1432.22 1879.81 L1431.84 1880.81 L1431.13 1881.81 L1430.18 1882.81 L1429.08 1883.81 L1427.93 1884.81 L1426.82 1885.81 L1425.71 1886.81 L1424.46 1887.81 L1423.15 1888.81 L1421.89 1889.81 L1420.75 1890.81 L1419.83 1891.81 L1419.04 1892.81 L1418.25 1893.81 L1417.5 1894.81 L1416.84 1895.81 L1416.33 1896.81 L1416 1897.81 L1415.9 1898.81 L1416.09 1899.81 L1416.52 1900.81 L1417.1 1901.81 L1417.75 1902.81 L1418.39 1903.81 L1418.94 1904.81 L1419.31 1905.81 L1419.64 1906.81 L1419.96 1907.81 L1420.21 1908.81 L1420.37 1909.81 L1420.37 1910.81 L1420.01 1911.81 L1419.4 1912.81 L1418.71 1913.81 L1418.09 1914.81 L1417.67 1915.81 L1417.28 1916.81 L1416.89 1917.81 L1416.54 1918.81 L1416.24 1919.81 L1416.02 1920.81 L1415.91 1921.81 L1415.95 1922.81 L1416.23 1923.81 L1416.7 1924.81 L1417.33 1925.81 L1418.06 1926.81 L1418.84 1927.81 L1419.64 1928.81 L1420.54 1929.81 L1421.75 1930.81 L1423.12 1931.81 L1424.49 1932.81 L1425.71 1933.81 L1426.6 1934.81 L1427.24 1935.81 L1427.84 1936.81 L1428.39 1937.81 L1428.82 1938.81 L1429.11 1939.81 L1429.21 1940.81 L1428.95 1941.81 L1428.26 1942.81 L1427.25 1943.81 L1426.06 1944.81 L1424.79 1945.81 L1423.54 1946.81 L1422.11 1947.81 L1420.38 1948.81 L1418.47 1949.81 L1416.48 1950.81 L1414.49 1951.81 L1412.63 1952.81 L1410.97 1953.81 L1409.62 1954.81 L1408.36 1955.81 L1407.15 1956.81 L1406 1957.81 L1404.94 1958.81 L1403.98 1959.81 L1403.15 1960.81 L1402.47 1961.81 L1401.94 1962.81 L1401.45 1963.81 L1400.98 1964.81 L1400.56 1965.81 L1400.22 1966.81 L1399.97 1967.81 L1399.85 1968.81 L1399.87 1969.81 L1400.01 1970.81 L1400.27 1971.81 L1400.61 1972.81 L1401.04 1973.81 L1401.53 1974.81 L1402.07 1975.81 L1402.77 1976.81 L1403.91 1977.81 L1405.4 1978.81 L1407.15 1979.81 L1409.06 1980.81 L1411.04 1981.81 L1412.99 1982.81 L1414.82 1983.81 L1416.69 1984.81 L1418.76 1985.81 L1420.87 1986.81 L1422.85 1987.81 L1424.53 1988.81 L1425.76 1989.81 L1426.73 1990.81 L1427.65 1991.81 L1428.46 1992.81 L1429.1 1993.81 L1429.5 1994.81 L1429.6 1995.81 L1429.28 1996.81 L1428.57 1997.81 L1427.54 1998.81 L1426.25 1999.81 L1424.79 2000.81 L1423.14 2001.81 L1420.34 2002.81 L1416.48 2003.81 L1412.03 2004.81 L1407.45 2005.81 L1403.23 2006.81 L1399.7 2007.81 L1396.27 2008.81 L1392.91 2009.81 L1389.73 2010.81 L1386.87 2011.81 L1384.45 2012.81 L1382.49 2013.81 L1380.55 2014.81 L1378.8 2015.81 L1377.47 2016.81 L1376.78 2017.81 L1376.87 2018.81 L1377.53 2019.81 L1378.64 2020.81 L1380.08 2021.81 L1381.73 2022.81 L1383.49 2023.81 L1385.24 2024.81 L1387.09 2025.81 L1389.32 2026.81 L1391.84 2027.81 L1394.55 2028.81 L1397.34 2029.81 L1400.1 2030.81 L1402.72 2031.81 L1405.1 2032.81 L1407.38 2033.81 L1409.71 2034.81 L1412.03 2035.81 L1414.27 2036.81 L1416.35 2037.81 L1418.2 2038.81 L1419.76 2039.81 L1420.96 2040.81 L1422.01 2041.81 L1423.01 2042.81 L1423.9 2043.81 L1424.58 2044.81 L1425 2045.81 L1425.06 2046.81 L1424.4 2047.81 L1423.03 2048.81 L1421.12 2049.81 L1418.85 2050.81 L1416.39 2051.81 L1413.79 2052.81 L1410.19 2053.81 L1405.71 2054.81 L1400.8 2055.81 L1395.86 2056.81 L1391.33 2057.81 L1387.45 2058.81 L1383.7 2059.81 L1380.07 2060.81 L1376.63 2061.81 L1373.48 2062.81 L1370.72 2063.81 L1368.27 2064.81 L1365.75 2065.81 L1363.35 2066.81 L1361.29 2067.81 L1359.81 2068.81 L1359.13 2069.81 L1359.37 2070.81 L1360.31 2071.81 L1361.78 2072.81 L1363.63 2073.81 L1365.68 2074.81 L1367.79 2075.81 L1370.31 2076.81 L1373.72 2077.81 L1377.7 2078.81 L1381.94 2079.81 L1386.15 2080.81 L1390.02 2081.81 L1393.24 2082.81 L1395.52 2083.81 L1397.35 2084.81 L1399.09 2085.81 L1400.63 2086.81 L1401.83 2087.81 L1402.58 2088.81 L1402.75 2089.81 L1402.17 2090.81 L1400.91 2091.81 L1399.15 2092.81 L1397.06 2093.81 L1394.82 2094.81 L1392.59 2095.81 L1390.54 2096.81 L1388.79 2097.81 L1386.91 2098.81 L1384.85 2099.81 L1382.73 2100.81 L1380.62 2101.81 L1378.64 2102.81 L1376.87 2103.81 L1375.42 2104.81 L1374.38 2105.81 L1373.84 2106.81 L1373.88 2107.81 L1374.37 2108.81 L1375.2 2109.81 L1376.24 2110.81 L1377.4 2111.81 L1378.57 2112.81 L1379.64 2113.81 L1380.49 2114.81 L1381.15 2115.81 L1381.83 2116.81 L1382.51 2117.81 L1383.14 2118.81 L1383.7 2119.81 L1384.15 2120.81 L1384.45 2121.81 L1384.56 2122.81 L1384.42 2123.81 L1383.96 2124.81 L1383.26 2125.81 L1382.35 2126.81 L1381.3 2127.81 L1380.14 2128.81 L1378.95 2129.81 L1377.76 2130.81 L1376.63 2131.81 L1375.61 2132.81 L1374.52 2133.81 L1373.28 2134.81 L1371.94 2135.81 L1370.55 2136.81 L1369.15 2137.81 L1367.81 2138.81 L1366.55 2139.81 L1365.44 2140.81 L1364.53 2141.81 L1363.86 2142.81 L1363.48 2143.81 L1363.44 2144.81 L1363.71 2145.81 L1364.23 2146.81 L1364.97 2147.81 L1365.9 2148.81 L1366.96 2149.81 L1368.12 2150.81 L1369.34 2151.81 L1370.7 2152.81 L1372.7 2153.81 L1375.22 2154.81 L1378.08 2155.81 L1381.07 2156.81 L1384 2157.81 L1386.7 2158.81 L1388.95 2159.81 L1390.83 2160.81 L1392.77 2161.81 L1394.63 2162.81 L1396.23 2163.81 L1397.37 2164.81 L1397.87 2165.81 L1397.48 2166.81 L1396.12 2167.81 L1394.05 2168.81 L1391.51 2169.81 L1388.75 2170.81 L1386.01 2171.81 L1383.54 2172.81 L1381.59 2173.81 L1379.89 2174.81 L1378.1 2175.81 L1376.3 2176.81 L1374.58 2177.81 L1373.01 2178.81 L1371.68 2179.81 L1370.66 2180.81 L1370.04 2181.81 L1369.89 2182.81 L1370.17 2183.81 L1370.8 2184.81 L1371.72 2185.81 L1372.88 2186.81 L1374.22 2187.81 L1375.68 2188.81 L1377.21 2189.81 L1378.76 2190.81 L1380.31 2191.81 L1382.29 2192.81 L1384.65 2193.81 L1387.23 2194.81 L1389.88 2195.81 L1392.44 2196.81 L1394.75 2197.81 L1396.64 2198.81 L1398.08 2199.81 L1399.48 2200.81 L1400.84 2201.81 L1402.06 2202.81 L1403.07 2203.81 L1403.78 2204.81 L1404.13 2205.81 L1403.99 2206.81 L1403.31 2207.81 L1402.25 2208.81 L1400.97 2209.81 L1399.63 2210.81 L1398.38 2211.81 L1397.4 2212.81 L1396.64 2213.81 L1395.86 2214.81 L1395.08 2215.81 L1394.36 2216.81 L1393.73 2217.81 L1393.23 2218.81 L1392.9 2219.81 L1392.79 2220.81 L1392.9 2221.81 L1393.19 2222.81 L1393.65 2223.81 L1394.24 2224.81 L1394.94 2225.81 L1395.73 2226.81 L1396.58 2227.81 L1397.48 2228.81 L1398.8 2229.81 L1400.63 2230.81 L1402.8 2231.81 L1405.16 2232.81 L1407.57 2233.81 L1409.86 2234.81 L1411.88 2235.81 L1413.53 2236.81 L1415.2 2237.81 L1416.89 2238.81 L1418.42 2239.81 L1419.62 2240.81 L1420.3 2241.81 L1420.33 2242.81 L1419.76 2243.81 L1418.74 2244.81 L1417.43 2245.81 L1415.97 2246.81 L1414.49 2247.81 L1412.99 2248.81 L1411.08 2249.81 L1408.99 2250.81 L1407.02 2251.81 L1405.46 2252.81 L1404.38 2253.81 L1403.36 2254.81 L1402.38 2255.81 L1401.49 2256.81 L1400.71 2257.81 L1400.06 2258.81 L1399.59 2259.81 L1399.31 2260.81 L1399.25 2261.51 L1469.75 2261.51 L1469.69 2260.81 L1469.41 2259.81 L1468.94 2258.81 L1468.29 2257.81 L1467.51 2256.81 L1466.62 2255.81 L1465.64 2254.81 L1464.62 2253.81 L1463.54 2252.81 L1461.98 2251.81 L1460.01 2250.81 L1457.92 2249.81 L1456.01 2248.81 L1454.51 2247.81 L1453.03 2246.81 L1451.57 2245.81 L1450.26 2244.81 L1449.24 2243.81 L1448.67 2242.81 L1448.7 2241.81 L1449.38 2240.81 L1450.58 2239.81 L1452.11 2238.81 L1453.8 2237.81 L1455.47 2236.81 L1457.12 2235.81 L1459.14 2234.81 L1461.43 2233.81 L1463.84 2232.81 L1466.2 2231.81 L1468.37 2230.81 L1470.2 2229.81 L1471.52 2228.81 L1472.42 2227.81 L1473.27 2226.81 L1474.06 2225.81 L1474.76 2224.81 L1475.35 2223.81 L1475.81 2222.81 L1476.1 2221.81 L1476.21 2220.81 L1476.1 2219.81 L1475.77 2218.81 L1475.27 2217.81 L1474.64 2216.81 L1473.92 2215.81 L1473.14 2214.81 L1472.36 2213.81 L1471.6 2212.81 L1470.62 2211.81 L1469.37 2210.81 L1468.03 2209.81 L1466.75 2208.81 L1465.69 2207.81 L1465.01 2206.81 L1464.87 2205.81 L1465.22 2204.81 L1465.93 2203.81 L1466.94 2202.81 L1468.16 2201.81 L1469.52 2200.81 L1470.92 2199.81 L1472.36 2198.81 L1474.25 2197.81 L1476.56 2196.81 L1479.12 2195.81 L1481.77 2194.81 L1484.35 2193.81 L1486.71 2192.81 L1488.69 2191.81 L1490.24 2190.81 L1491.79 2189.81 L1493.32 2188.81 L1494.78 2187.81 L1496.12 2186.81 L1497.28 2185.81 L1498.2 2184.81 L1498.83 2183.81 L1499.11 2182.81 L1498.96 2181.81 L1498.34 2180.81 L1497.32 2179.81 L1495.99 2178.81 L1494.42 2177.81 L1492.7 2176.81 L1490.9 2175.81 L1489.11 2174.81 L1487.41 2173.81 L1485.46 2172.81 L1482.99 2171.81 L1480.25 2170.81 L1477.49 2169.81 L1474.95 2168.81 L1472.88 2167.81 L1471.52 2166.81 L1471.13 2165.81 L1471.63 2164.81 L1472.77 2163.81 L1474.37 2162.81 L1476.23 2161.81 L1478.17 2160.81 L1480.05 2159.81 L1482.3 2158.81 L1485 2157.81 L1487.93 2156.81 L1490.92 2155.81 L1493.78 2154.81 L1496.3 2153.81 L1498.3 2152.81 L1499.66 2151.81 L1500.88 2150.81 L1502.04 2149.81 L1503.1 2148.81 L1504.03 2147.81 L1504.77 2146.81 L1505.29 2145.81 L1505.56 2144.81 L1505.52 2143.81 L1505.14 2142.81 L1504.47 2141.81 L1503.56 2140.81 L1502.45 2139.81 L1501.19 2138.81 L1499.85 2137.81 L1498.45 2136.81 L1497.06 2135.81 L1495.72 2134.81 L1494.48 2133.81 L1493.39 2132.81 L1492.37 2131.81 L1491.24 2130.81 L1490.05 2129.81 L1488.86 2128.81 L1487.7 2127.81 L1486.65 2126.81 L1485.74 2125.81 L1485.04 2124.81 L1484.58 2123.81 L1484.44 2122.81 L1484.55 2121.81 L1484.85 2120.81 L1485.3 2119.81 L1485.86 2118.81 L1486.49 2117.81 L1487.17 2116.81 L1487.85 2115.81 L1488.51 2114.81 L1489.36 2113.81 L1490.43 2112.81 L1491.6 2111.81 L1492.76 2110.81 L1493.8 2109.81 L1494.63 2108.81 L1495.12 2107.81 L1495.16 2106.81 L1494.62 2105.81 L1493.58 2104.81 L1492.13 2103.81 L1490.36 2102.81 L1488.38 2101.81 L1486.27 2100.81 L1484.15 2099.81 L1482.09 2098.81 L1480.21 2097.81 L1478.46 2096.81 L1476.41 2095.81 L1474.18 2094.81 L1471.94 2093.81 L1469.85 2092.81 L1468.09 2091.81 L1466.83 2090.81 L1466.25 2089.81 L1466.42 2088.81 L1467.17 2087.81 L1468.37 2086.81 L1469.91 2085.81 L1471.65 2084.81 L1473.48 2083.81 L1475.76 2082.81 L1478.98 2081.81 L1482.85 2080.81 L1487.06 2079.81 L1491.3 2078.81 L1495.28 2077.81 L1498.69 2076.81 L1501.21 2075.81 L1503.32 2074.81 L1505.37 2073.81 L1507.22 2072.81 L1508.69 2071.81 L1509.63 2070.81 L1509.87 2069.81 L1509.19 2068.81 L1507.71 2067.81 L1505.65 2066.81 L1503.25 2065.81 L1500.73 2064.81 L1498.28 2063.81 L1495.52 2062.81 L1492.37 2061.81 L1488.93 2060.81 L1485.3 2059.81 L1481.55 2058.81 L1477.67 2057.81 L1473.14 2056.81 L1468.2 2055.81 L1463.29 2054.81 L1458.81 2053.81 L1455.21 2052.81 L1452.61 2051.81 L1450.15 2050.81 L1447.88 2049.81 L1445.97 2048.81 L1444.6 2047.81 L1443.94 2046.81 L1444 2045.81 L1444.42 2044.81 L1445.1 2043.81 L1445.99 2042.81 L1446.99 2041.81 L1448.04 2040.81 L1449.24 2039.81 L1450.8 2038.81 L1452.65 2037.81 L1454.73 2036.81 L1456.97 2035.81 L1459.29 2034.81 L1461.62 2033.81 L1463.9 2032.81 L1466.28 2031.81 L1468.9 2030.81 L1471.66 2029.81 L1474.45 2028.81 L1477.16 2027.81 L1479.68 2026.81 L1481.91 2025.81 L1483.76 2024.81 L1485.51 2023.81 L1487.27 2022.81 L1488.92 2021.81 L1490.36 2020.81 L1491.47 2019.81 L1492.13 2018.81 L1492.22 2017.81 L1491.53 2016.81 L1490.2 2015.81 L1488.45 2014.81 L1486.51 2013.81 L1484.55 2012.81 L1482.13 2011.81 L1479.27 2010.81 L1476.09 2009.81 L1472.73 2008.81 L1469.3 2007.81 L1465.77 2006.81 L1461.55 2005.81 L1456.97 2004.81 L1452.52 2003.81 L1448.66 2002.81 L1445.86 2001.81 L1444.21 2000.81 L1442.75 1999.81 L1441.46 1998.81 L1440.43 1997.81 L1439.72 1996.81 L1439.4 1995.81 L1439.5 1994.81 L1439.9 1993.81 L1440.54 1992.81 L1441.35 1991.81 L1442.27 1990.81 L1443.24 1989.81 L1444.47 1988.81 L1446.15 1987.81 L1448.13 1986.81 L1450.24 1985.81 L1452.31 1984.81 L1454.18 1983.81 L1456.01 1982.81 L1457.96 1981.81 L1459.94 1980.81 L1461.85 1979.81 L1463.6 1978.81 L1465.09 1977.81 L1466.23 1976.81 L1466.93 1975.81 L1467.47 1974.81 L1467.96 1973.81 L1468.39 1972.81 L1468.73 1971.81 L1468.99 1970.81 L1469.13 1969.81 L1469.15 1968.81 L1469.03 1967.81 L1468.78 1966.81 L1468.44 1965.81 L1468.02 1964.81 L1467.55 1963.81 L1467.06 1962.81 L1466.53 1961.81 L1465.85 1960.81 L1465.02 1959.81 L1464.06 1958.81 L1463 1957.81 L1461.85 1956.81 L1460.64 1955.81 L1459.38 1954.81 L1458.03 1953.81 L1456.37 1952.81 L1454.51 1951.81 L1452.52 1950.81 L1450.53 1949.81 L1448.62 1948.81 L1446.89 1947.81 L1445.46 1946.81 L1444.21 1945.81 L1442.94 1944.81 L1441.75 1943.81 L1440.74 1942.81 L1440.05 1941.81 L1439.79 1940.81 L1439.89 1939.81 L1440.18 1938.81 L1440.61 1937.81 L1441.16 1936.81 L1441.76 1935.81 L1442.4 1934.81 L1443.29 1933.81 L1444.51 1932.81 L1445.88 1931.81 L1447.25 1930.81 L1448.46 1929.81 L1449.36 1928.81 L1450.16 1927.81 L1450.94 1926.81 L1451.67 1925.81 L1452.3 1924.81 L1452.77 1923.81 L1453.05 1922.81 L1453.09 1921.81 L1452.98 1920.81 L1452.76 1919.81 L1452.46 1918.81 L1452.11 1917.81 L1451.72 1916.81 L1451.33 1915.81 L1450.91 1914.81 L1450.29 1913.81 L1449.6 1912.81 L1448.99 1911.81 L1448.63 1910.81 L1448.63 1909.81 L1448.79 1908.81 L1449.04 1907.81 L1449.36 1906.81 L1449.69 1905.81 L1450.06 1904.81 L1450.61 1903.81 L1451.25 1902.81 L1451.9 1901.81 L1452.48 1900.81 L1452.91 1899.81 L1453.1 1898.81 L1453 1897.81 L1452.67 1896.81 L1452.16 1895.81 L1451.5 1894.81 L1450.75 1893.81 L1449.96 1892.81 L1449.17 1891.81 L1448.25 1890.81 L1447.11 1889.81 L1445.85 1888.81 L1444.54 1887.81 L1443.29 1886.81 L1442.18 1885.81 L1441.07 1884.81 L1439.92 1883.81 L1438.82 1882.81 L1437.87 1881.81 L1437.16 1880.81 L1436.78 1879.81 L1436.51 1878.81 L1436.27 1877.81 L1436.06 1876.81 L1435.88 1875.81 L1435.73 1874.81 L1435.61 1873.81 L1435.53 1872.81 L1435.49 1871.81 L1435.49 1870.81 L1435.55 1869.81 L1435.66 1868.81 L1435.83 1867.81 L1436.05 1866.81 L1436.31 1865.81 L1436.61 1864.81 L1436.94 1863.81 L1437.3 1862.81 L1437.77 1861.81 L1438.57 1860.81 L1439.62 1859.81 L1440.8 1858.81 L1442 1857.81 L1443.09 1856.81 L1444.05 1855.81 L1445 1854.81 L1445.95 1853.81 L1446.86 1852.81 L1447.73 1851.81 L1448.52 1850.81 L1449.25 1849.81 L1449.94 1848.81 L1450.59 1847.81 L1451.18 1846.81 L1451.73 1845.81 Z" fill="#ff00ff"/>
<text x="1295.82" y="1823.44" font-family="'Liberation Serif','DejaVu Serif',serif" font-size="25.68" font-weight="bold" fill="#1e1e1e" textLength="45.83" lengthAdjust="spacingAndGlyphs">0.17</text>
<line x1="1352.5" y1="1890.5" x2="1357.5" y2="1890.5" stroke="#1e1e1e" stroke-width="1"/>
<line x1="1511.5" y1="1890.5" x2="1516.5" y2="1890.5" stroke="#1e1e1e" stroke-width="1"/>
<text x="1295.95" y="1898.49" font-family="'Liberation Serif','DejaVu Serif',serif" font-size="25.68" font-weight="bold" fill="#1e1e1e" textLength="45.83" lengthAdjust="spacingAndGlyphs">0.16</text>
<line x1="1352.5" y1="1965.5" x2="1357.5" y2="1965.5" stroke="#1e1e1e" stroke-width="1"/>
<line x1="1511.5" y1="1965.5" x2="1516.5" y2="1965.5" stroke="#1e1e1e" stroke-width="1"/>
<text x="1296.15" y="1973.54" font-family="'Liberation Serif','DejaVu Serif',serif" font-size="25.68" font-weight="bold" fill="#1e1e1e" textLength="45.83" lengthAdjust="spacingAndGlyphs">0.15</text>
<line x1="1352.5" y1="2040.5" x2="1357.5" y2="2040.5" stroke="#1e1e1e" stroke-width="1"/>
<line x1="1511.5" y1="2040.5" x2="1516.5" y2="2040.5" stroke="#1e1e1e" stroke-width="1"/>
<text x="1295.63" y="2048.59" font-family="'Liberation Serif','DejaVu Serif',serif" font-size="25.68" font-weight="bold" fill="#1e1e1e" textLength="45.83" lengthAdjust="spacingAndGlyphs">0.14</text>
<line x1="1352.5" y1="2115.5" x2="1357.5" y2="2115.5" stroke="#1e1e1e" stroke-width="1"/>
<line x1="1511.5" y1="2115.5" x2="1516.5" y2="2115.5" stroke="#1e1e1e" stroke-width="1"/>
<text x="1296.08" y="2123.64" font-family="'Liberation Serif','DejaVu Serif',serif" font-size="25.68" font-weight="bold" fill="#1e1e1e" textLength="45.83" lengthAdjust="spacingAndGlyphs">0.13</text>
<line x1="1352.5" y1="2190.5" x2="1357.5" y2="2190.5" stroke="#1e1e1e" stroke-width="1"/>
<line x1="1511.5" y1="2190.5" x2="1516.5" y2="2190.5" stroke="#1e1e1e" stroke-width="1"/>
<text x="1296.28" y="2198.69" font-family="'Liberation Serif','DejaVu Serif',serif" font-size="25.68" font-weight="bold" fill="#1e1e1e" textLength="45.83" lengthAdjust="spacingAndGlyphs">0.12</text>
<line x1="1352.5" y1="2265.5" x2="1357.5" y2="2265.5" stroke="#1e1e1e" stroke-width="1"/>
<line x1="1511.5" y1="2265.5" x2="1516.5" y2="2265.5" stroke="#1e1e1e" stroke-width="1"/>
<text x="1297.98" y="2273.74" font-family="'Liberation Serif','DejaVu Serif',serif" font-size="25.68" font-weight="bold" fill="#1e1e1e" textLength="44.39" lengthAdjust="spacingAndGlyphs">0.11</text>
<line x1="1434.5" y1="1815.5" x2="1434.5" y2="1820.5" stroke="#1e1e1e" stroke-width="1"/>
<line x1="1434.5" y1="2298.5" x2="1434.5" y2="2303.5" stroke="#1e1e1e" stroke-width="1"/>
<text x="1374.52" y="2337" font-family="'Liberation Serif','DejaVu Serif',serif" font-size="25.68" font-weight="bold" fill="#1e1e1e" textLength="119.07" lengthAdjust="spacingAndGlyphs">Violin Plot</text>
<text x="-2136.78" y="1284" font-family="'Liberation Serif','DejaVu Serif',serif" font-size="28.69" font-weight="bold" fill="#1e1e1e" textLength="155.38" lengthAdjust="spacingAndGlyphs" transform="rotate(-90)">TC (W/m.K)</text>
</g>
</svg>
</body>
</html>
